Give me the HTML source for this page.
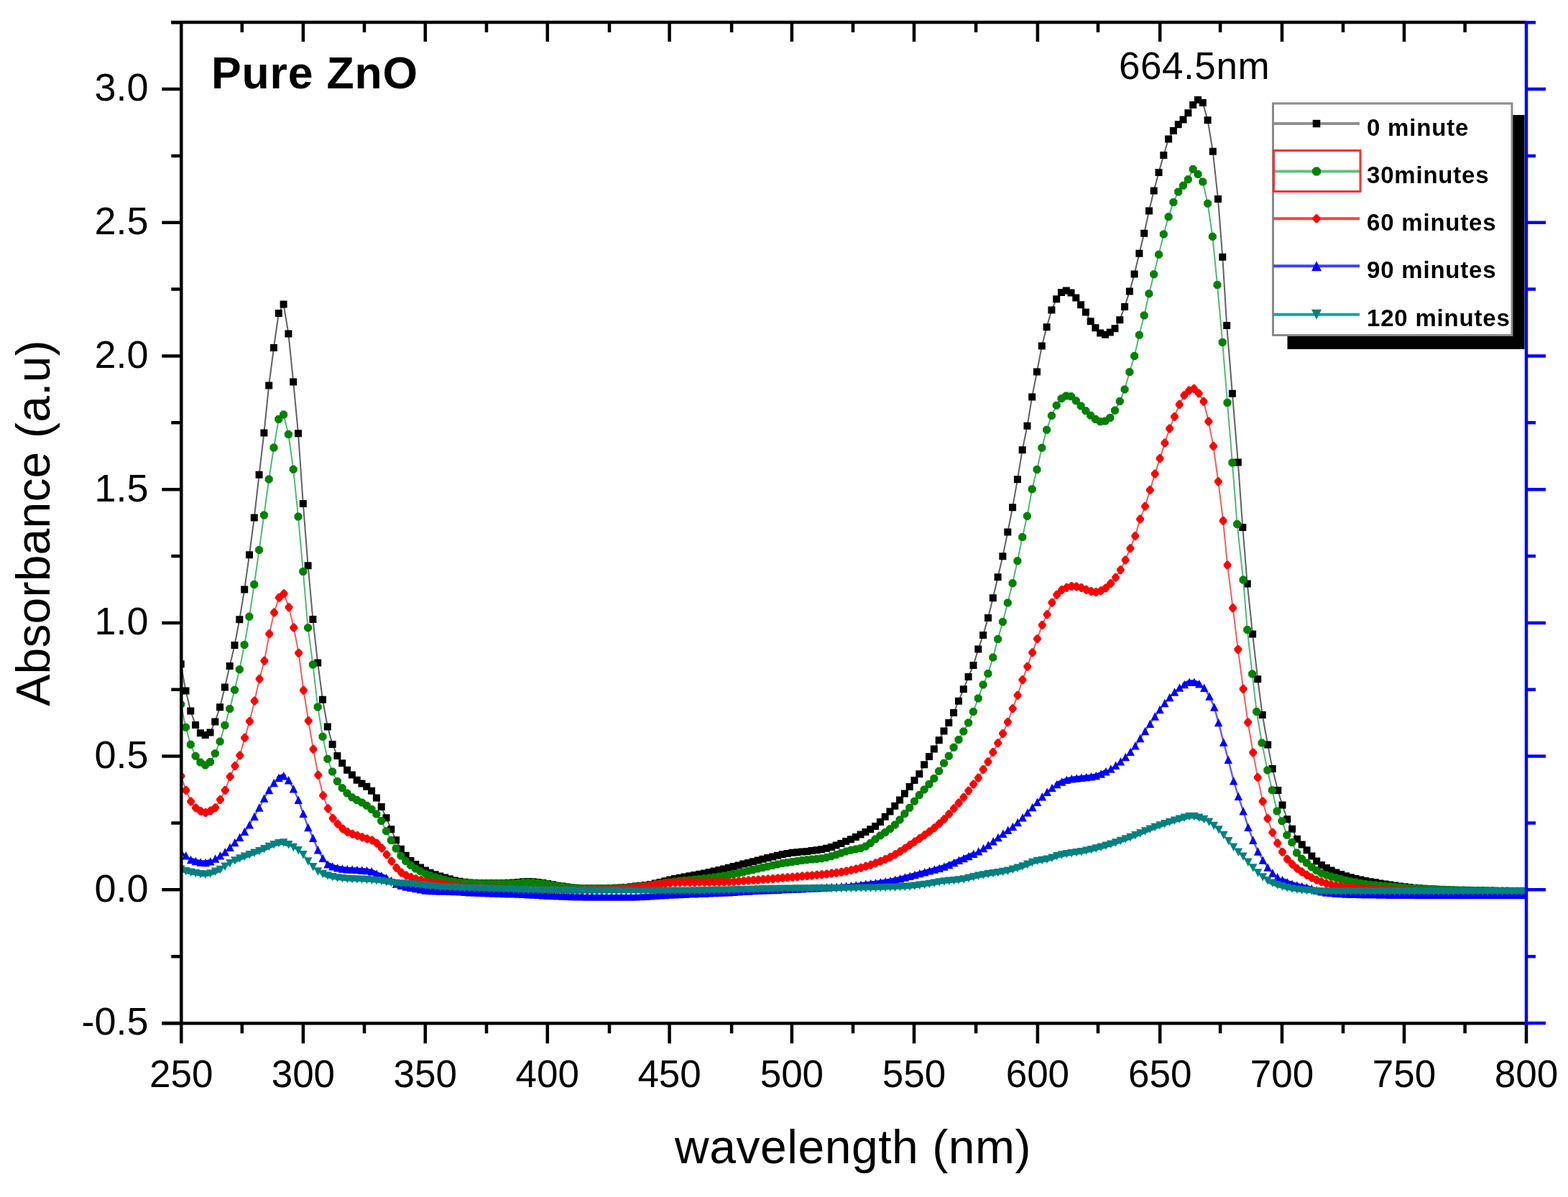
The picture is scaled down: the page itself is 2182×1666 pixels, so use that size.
<!DOCTYPE html>
<html><head><meta charset="utf-8"><title>Pure ZnO absorbance</title>
<style>html,body{margin:0;padding:0;background:#fff;}svg{display:block;}text{font-family:"Liberation Sans",Arial,Helvetica,sans-serif;fill:#000;}</style>
</head><body>
<svg width="2182" height="1666" viewBox="0 0 2182 1666">
<rect width="2182" height="1666" fill="#fff"/>
<defs><clipPath id="pc"><rect x="252.3" y="31" width="1869.7" height="1393.3"/></clipPath></defs>
<g clip-path="url(#pc)">
<path d="M251.7 924.3 258.5 961.5 265.3 989.4 272.1 1009.1 278.9 1020.2 285.7 1023 292.5 1019.5 299.3 1004.4 306.1 984.2 312.9 956.6 319.7 926.9 326.5 898 333.3 862.2 340.2 820.4 347 772.3 353.8 720.5 360.6 660.8 367.4 602.6 374.2 536.4 381 484 387.8 435.9 394.6 423.4 401.4 464.4 408.2 531.5 415 603.2 421.8 701 428.6 787.2 435.4 861.9 442.2 922.6 449 973.7 455.8 1011.5 462.6 1035.9 469.4 1052.1 476.2 1062.3 483.1 1071.8 489.9 1078.6 496.7 1085.8 503.5 1090.4 510.3 1094.8 517.1 1100.8 523.9 1110.6 530.7 1123.1 537.5 1138.2 544.3 1154.2 551.1 1169.2 557.9 1181.7 564.7 1190.7 571.5 1198.1 578.3 1202.9 585.1 1207.4 591.9 1211.4 598.7 1214.8 605.6 1217.3 612.4 1219.4 619.2 1221.5 626 1223.6 632.8 1225.4 639.6 1226.8 646.4 1227.8 653.2 1228.4 660 1228.8 666.8 1229.1 673.6 1229.1 680.4 1229.1 687.2 1229 694 1229 700.8 1228.9 707.6 1228.8 714.4 1228.6 721.2 1227.9 728.1 1227.2 734.9 1226.9 741.7 1227.2 748.5 1227.9 755.3 1228.7 762.1 1229.9 768.9 1231.3 775.7 1232.7 782.5 1233.6 789.3 1234.6 796.1 1235.4 802.9 1236.1 809.7 1236.5 816.5 1236.5 823.3 1236.5 830.1 1236.4 836.9 1236.3 843.7 1236.2 850.6 1236.1 857.4 1235.8 864.2 1235.4 871 1234.9 877.8 1234.3 884.6 1233.6 891.4 1232.8 898.2 1232 905 1231 911.8 1229.6 918.6 1228 925.4 1226.2 932.2 1224.5 939 1223 945.8 1221.7 952.6 1220.4 959.4 1219.2 966.2 1218 973.1 1216.8 979.9 1215.4 986.7 1214 993.5 1212.5 1000.3 1211 1007.1 1209.4 1013.9 1207.8 1020.7 1206.1 1027.5 1204.4 1034.3 1202.6 1041.1 1200.9 1047.9 1199.2 1054.7 1197.5 1061.5 1195.7 1068.3 1194 1075.1 1192.4 1081.9 1190.8 1088.7 1189.3 1095.6 1187.9 1102.4 1186.8 1109.2 1186.2 1116 1185.6 1122.8 1184.9 1129.6 1184.1 1136.4 1183.2 1143.2 1182.2 1150 1180.8 1156.8 1178.9 1163.6 1176.6 1170.4 1173.9 1177.2 1171.1 1184 1168.2 1190.8 1165.1 1197.6 1161.6 1204.4 1158 1211.2 1154.3 1218.1 1149.9 1224.9 1144 1231.7 1136.8 1238.5 1129.4 1245.3 1121.7 1252.1 1113.4 1258.9 1104.6 1265.7 1095.1 1272.5 1086 1279.3 1077.2 1286.2 1064.2 1293 1053 1299.8 1042.4 1306.7 1030.3 1313.5 1017.6 1320.3 1006 1327.1 992.1 1334 975.7 1340.8 959.2 1347.6 942.1 1354.5 926 1361.3 903.6 1368.1 884 1375 860.1 1381.8 832.3 1388.6 803.3 1395.4 774.2 1402.3 740.6 1409.1 706.2 1415.9 667.3 1422.7 626.2 1429.5 592.8 1436.2 552.4 1443 517.6 1449.8 481.6 1456.6 455.3 1463.4 431.6 1470.2 416.2 1477 407.1 1483.8 404.5 1490.5 407.6 1497.3 414.4 1504.1 424.2 1510.9 434.5 1517.7 447.2 1524.4 456.2 1531.2 463.6 1538 465.7 1544.8 462.6 1551.5 457.2 1558.3 445.2 1565.1 426.9 1571.9 405.6 1578.6 381.4 1585.4 352.8 1592.2 324.7 1599 293.6 1605.7 265.4 1612.5 240.1 1619.3 216 1626.1 193.5 1632.9 181.9 1639.7 173.3 1646.5 166.6 1653.4 157.2 1660.2 145.9 1667 139 1673.8 143 1680.6 167.2 1687.8 210.8 1695 277.1 1701.3 357.8 1707.2 453.1 1714.9 547.8 1722.8 643.4 1729.3 734.1 1735.7 812.6 1743.1 882.5 1750.2 945.2 1756.7 995 1764.2 1036.5 1770.7 1070.1 1778.3 1100.1 1784.5 1120.4 1791.3 1140.3 1798.1 1153.8 1805 1167.8 1811.8 1175.5 1818.6 1183.2 1825.4 1191.5 1832.2 1198.5 1839 1203.9 1845.8 1208 1852.6 1211.4 1859.4 1214.4 1866.2 1216.9 1873 1219.2 1879.8 1221.2 1886.6 1223 1893.4 1224.5 1900.2 1225.9 1907 1227.2 1913.8 1228.3 1920.6 1229.5 1927.4 1230.6 1934.2 1231.6 1941 1232.5 1947.8 1233.4 1954.6 1234.3 1961.4 1235 1968.2 1235.7 1974.9 1236.3 1981.7 1236.8 1988.5 1237.2 1995.3 1237.6 2002.1 1238 2008.9 1238.2 2015.7 1238.5 2022.5 1238.7 2029.3 1238.9 2036.1 1239.1 2042.9 1239.3 2049.7 1239.4 2056.5 1239.5 2063.3 1239.6 2070.1 1239.7 2076.9 1239.8 2083.7 1239.9 2090.5 1240 2097.3 1240.1 2104.1 1240.2 2110.9 1240.2 2117.7 1240.2 2124.5 1240.2" fill="none" stroke="#606060" stroke-width="2" stroke-linejoin="round"/>
<path d="M246.7 919.3h10v10h-10zM253.5 956.5h10v10h-10zM260.3 984.4h10v10h-10zM267.1 1004.1h10v10h-10zM273.9 1015.2h10v10h-10zM280.7 1018h10v10h-10zM287.5 1014.5h10v10h-10zM294.3 999.4h10v10h-10zM301.1 979.2h10v10h-10zM307.9 951.6h10v10h-10zM314.7 921.9h10v10h-10zM321.5 893h10v10h-10zM328.3 857.2h10v10h-10zM335.2 815.4h10v10h-10zM342 767.3h10v10h-10zM348.8 715.5h10v10h-10zM355.6 655.8h10v10h-10zM362.4 597.6h10v10h-10zM369.2 531.4h10v10h-10zM376 479h10v10h-10zM382.8 430.9h10v10h-10zM389.6 418.4h10v10h-10zM396.4 459.4h10v10h-10zM403.2 526.5h10v10h-10zM410 598.2h10v10h-10zM416.8 696h10v10h-10zM423.6 782.2h10v10h-10zM430.4 856.9h10v10h-10zM437.2 917.6h10v10h-10zM444 968.7h10v10h-10zM450.8 1006.5h10v10h-10zM457.6 1030.9h10v10h-10zM464.4 1047.1h10v10h-10zM471.2 1057.3h10v10h-10zM478.1 1066.8h10v10h-10zM484.9 1073.6h10v10h-10zM491.7 1080.8h10v10h-10zM498.5 1085.4h10v10h-10zM505.3 1089.8h10v10h-10zM512.1 1095.8h10v10h-10zM518.9 1105.6h10v10h-10zM525.7 1118.1h10v10h-10zM532.5 1133.2h10v10h-10zM539.3 1149.2h10v10h-10zM546.1 1164.2h10v10h-10zM552.9 1176.7h10v10h-10zM559.7 1185.7h10v10h-10zM566.5 1193.1h10v10h-10zM573.3 1197.9h10v10h-10zM580.1 1202.4h10v10h-10zM586.9 1206.4h10v10h-10zM593.7 1209.8h10v10h-10zM600.6 1212.3h10v10h-10zM607.4 1214.4h10v10h-10zM614.2 1216.5h10v10h-10zM621 1218.6h10v10h-10zM627.8 1220.4h10v10h-10zM634.6 1221.8h10v10h-10zM641.4 1222.8h10v10h-10zM648.2 1223.4h10v10h-10zM655 1223.8h10v10h-10zM661.8 1224.1h10v10h-10zM668.6 1224.1h10v10h-10zM675.4 1224.1h10v10h-10zM682.2 1224h10v10h-10zM689 1224h10v10h-10zM695.8 1223.9h10v10h-10zM702.6 1223.8h10v10h-10zM709.4 1223.6h10v10h-10zM716.2 1222.9h10v10h-10zM723.1 1222.2h10v10h-10zM729.9 1221.9h10v10h-10zM736.7 1222.2h10v10h-10zM743.5 1222.9h10v10h-10zM750.3 1223.7h10v10h-10zM757.1 1224.9h10v10h-10zM763.9 1226.3h10v10h-10zM770.7 1227.7h10v10h-10zM777.5 1228.6h10v10h-10zM784.3 1229.6h10v10h-10zM791.1 1230.4h10v10h-10zM797.9 1231.1h10v10h-10zM804.7 1231.5h10v10h-10zM811.5 1231.5h10v10h-10zM818.3 1231.5h10v10h-10zM825.1 1231.4h10v10h-10zM831.9 1231.3h10v10h-10zM838.7 1231.2h10v10h-10zM845.6 1231.1h10v10h-10zM852.4 1230.8h10v10h-10zM859.2 1230.4h10v10h-10zM866 1229.9h10v10h-10zM872.8 1229.3h10v10h-10zM879.6 1228.6h10v10h-10zM886.4 1227.8h10v10h-10zM893.2 1227h10v10h-10zM900 1226h10v10h-10zM906.8 1224.6h10v10h-10zM913.6 1223h10v10h-10zM920.4 1221.2h10v10h-10zM927.2 1219.5h10v10h-10zM934 1218h10v10h-10zM940.8 1216.7h10v10h-10zM947.6 1215.4h10v10h-10zM954.4 1214.2h10v10h-10zM961.2 1213h10v10h-10zM968.1 1211.8h10v10h-10zM974.9 1210.4h10v10h-10zM981.7 1209h10v10h-10zM988.5 1207.5h10v10h-10zM995.3 1206h10v10h-10zM1002.1 1204.4h10v10h-10zM1008.9 1202.8h10v10h-10zM1015.7 1201.1h10v10h-10zM1022.5 1199.4h10v10h-10zM1029.3 1197.6h10v10h-10zM1036.1 1195.9h10v10h-10zM1042.9 1194.2h10v10h-10zM1049.7 1192.5h10v10h-10zM1056.5 1190.7h10v10h-10zM1063.3 1189h10v10h-10zM1070.1 1187.4h10v10h-10zM1076.9 1185.8h10v10h-10zM1083.7 1184.3h10v10h-10zM1090.6 1182.9h10v10h-10zM1097.4 1181.8h10v10h-10zM1104.2 1181.2h10v10h-10zM1111 1180.6h10v10h-10zM1117.8 1179.9h10v10h-10zM1124.6 1179.1h10v10h-10zM1131.4 1178.2h10v10h-10zM1138.2 1177.2h10v10h-10zM1145 1175.8h10v10h-10zM1151.8 1173.9h10v10h-10zM1158.6 1171.6h10v10h-10zM1165.4 1168.9h10v10h-10zM1172.2 1166.1h10v10h-10zM1179 1163.2h10v10h-10zM1185.8 1160.1h10v10h-10zM1192.6 1156.6h10v10h-10zM1199.4 1153h10v10h-10zM1206.2 1149.3h10v10h-10zM1213.1 1144.9h10v10h-10zM1219.9 1139h10v10h-10zM1226.7 1131.8h10v10h-10zM1233.5 1124.4h10v10h-10zM1240.3 1116.7h10v10h-10zM1247.1 1108.4h10v10h-10zM1253.9 1099.6h10v10h-10zM1260.7 1090.1h10v10h-10zM1267.5 1081h10v10h-10zM1274.3 1072.2h10v10h-10zM1281.2 1059.2h10v10h-10zM1288 1048h10v10h-10zM1294.8 1037.4h10v10h-10zM1301.7 1025.3h10v10h-10zM1308.5 1012.6h10v10h-10zM1315.3 1001h10v10h-10zM1322.1 987.1h10v10h-10zM1329 970.7h10v10h-10zM1335.8 954.2h10v10h-10zM1342.6 937.1h10v10h-10zM1349.5 921h10v10h-10zM1356.3 898.6h10v10h-10zM1363.1 879h10v10h-10zM1370 855.1h10v10h-10zM1376.8 827.3h10v10h-10zM1383.6 798.3h10v10h-10zM1390.4 769.2h10v10h-10zM1397.3 735.6h10v10h-10zM1404.1 701.2h10v10h-10zM1410.9 662.3h10v10h-10zM1417.7 621.2h10v10h-10zM1424.5 587.8h10v10h-10zM1431.2 547.4h10v10h-10zM1438 512.6h10v10h-10zM1444.8 476.6h10v10h-10zM1451.6 450.3h10v10h-10zM1458.4 426.6h10v10h-10zM1465.2 411.2h10v10h-10zM1472 402.1h10v10h-10zM1478.8 399.5h10v10h-10zM1485.5 402.6h10v10h-10zM1492.3 409.4h10v10h-10zM1499.1 419.2h10v10h-10zM1505.9 429.5h10v10h-10zM1512.7 442.2h10v10h-10zM1519.4 451.2h10v10h-10zM1526.2 458.6h10v10h-10zM1533 460.7h10v10h-10zM1539.8 457.6h10v10h-10zM1546.5 452.2h10v10h-10zM1553.3 440.2h10v10h-10zM1560.1 421.9h10v10h-10zM1566.9 400.6h10v10h-10zM1573.6 376.4h10v10h-10zM1580.4 347.8h10v10h-10zM1587.2 319.7h10v10h-10zM1594 288.6h10v10h-10zM1600.7 260.4h10v10h-10zM1607.5 235.1h10v10h-10zM1614.3 211h10v10h-10zM1621.1 188.5h10v10h-10zM1627.9 176.9h10v10h-10zM1634.7 168.3h10v10h-10zM1641.5 161.6h10v10h-10zM1648.4 152.2h10v10h-10zM1655.2 140.9h10v10h-10zM1662 134h10v10h-10zM1668.8 138h10v10h-10zM1675.6 162.2h10v10h-10zM1682.8 205.8h10v10h-10zM1690 272.1h10v10h-10zM1696.3 352.8h10v10h-10zM1702.2 448.1h10v10h-10zM1709.9 542.8h10v10h-10zM1717.8 638.4h10v10h-10zM1724.3 729.1h10v10h-10zM1730.7 807.6h10v10h-10zM1738.1 877.5h10v10h-10zM1745.2 940.2h10v10h-10zM1751.7 990h10v10h-10zM1759.2 1031.5h10v10h-10zM1765.7 1065.1h10v10h-10zM1773.3 1095.1h10v10h-10zM1779.5 1115.4h10v10h-10zM1786.3 1135.3h10v10h-10zM1793.1 1148.8h10v10h-10zM1800 1162.8h10v10h-10zM1806.8 1170.5h10v10h-10zM1813.6 1178.2h10v10h-10zM1820.4 1186.5h10v10h-10zM1827.2 1193.5h10v10h-10zM1834 1198.9h10v10h-10zM1840.8 1203h10v10h-10zM1847.6 1206.4h10v10h-10zM1854.4 1209.4h10v10h-10zM1861.2 1211.9h10v10h-10zM1868 1214.2h10v10h-10zM1874.8 1216.2h10v10h-10zM1881.6 1218h10v10h-10zM1888.4 1219.5h10v10h-10zM1895.2 1220.9h10v10h-10zM1902 1222.2h10v10h-10zM1908.8 1223.3h10v10h-10zM1915.6 1224.5h10v10h-10zM1922.4 1225.6h10v10h-10zM1929.2 1226.6h10v10h-10zM1936 1227.5h10v10h-10zM1942.8 1228.4h10v10h-10zM1949.6 1229.3h10v10h-10zM1956.4 1230h10v10h-10zM1963.2 1230.7h10v10h-10zM1969.9 1231.3h10v10h-10zM1976.7 1231.8h10v10h-10zM1983.5 1232.2h10v10h-10zM1990.3 1232.6h10v10h-10zM1997.1 1233h10v10h-10zM2003.9 1233.2h10v10h-10zM2010.7 1233.5h10v10h-10zM2017.5 1233.7h10v10h-10zM2024.3 1233.9h10v10h-10zM2031.1 1234.1h10v10h-10zM2037.9 1234.3h10v10h-10zM2044.7 1234.4h10v10h-10zM2051.5 1234.5h10v10h-10zM2058.3 1234.6h10v10h-10zM2065.1 1234.7h10v10h-10zM2071.9 1234.8h10v10h-10zM2078.7 1234.9h10v10h-10zM2085.5 1235h10v10h-10zM2092.3 1235.1h10v10h-10zM2099.1 1235.2h10v10h-10zM2105.9 1235.2h10v10h-10zM2112.7 1235.2h10v10h-10zM2119.5 1235.2h10v10h-10z" fill="#000000"/>
<path d="M251.7 980.2 258.5 1012.2 265.3 1036.3 272.1 1052.2 278.9 1061 285.7 1065 292.5 1060.4 299.3 1048.8 306.1 1032 312.9 1009.4 319.7 986.5 326.5 960.2 333.3 931.7 340.2 897.4 347 858.2 353.8 813.4 360.6 765.5 367.4 716.9 374.2 667 381 623 387.8 583.4 394.6 577.1 401.4 604.5 408.2 653.3 415 719 421.8 795.4 428.6 873.8 435.4 924.9 442.2 983.9 449 1025.3 455.8 1056.3 462.6 1073.9 469.4 1087.4 476.2 1096.8 483.1 1103.9 489.9 1109.7 496.7 1113.6 503.5 1116.9 510.3 1121.2 517.1 1126.4 523.9 1133.1 530.7 1142.5 537.5 1156.8 544.3 1169.5 551.1 1181 557.9 1191 564.7 1198.5 571.5 1204.3 578.3 1208.9 585.1 1212.7 591.9 1215.9 598.7 1218.5 605.6 1220.8 612.4 1222.8 619.2 1224.6 626 1226.2 632.8 1227.5 639.6 1228.2 646.4 1228.8 653.2 1229.3 660 1229.6 666.8 1229.8 673.6 1229.8 680.4 1229.8 687.2 1229.8 694 1229.8 700.8 1229.8 707.6 1229.8 714.4 1229.7 721.2 1229.2 728.1 1228.6 734.9 1228.3 741.7 1228.6 748.5 1229.2 755.3 1229.8 762.1 1230.8 768.9 1232 775.7 1233.1 782.5 1234 789.3 1234.8 796.1 1235.5 802.9 1236.1 809.7 1236.5 816.5 1236.5 823.3 1236.5 830.1 1236.5 836.9 1236.5 843.7 1236.5 850.6 1236.5 857.4 1236.3 864.2 1235.9 871 1235.4 877.8 1234.8 884.6 1234.1 891.4 1233.5 898.2 1232.8 905 1232 911.8 1231.1 918.6 1230 925.4 1228.9 932.2 1227.9 939 1227 945.8 1226.2 952.6 1225.5 959.4 1224.9 966.2 1224.3 973.1 1223.5 979.9 1222.7 986.7 1221.9 993.5 1221 1000.3 1220 1007.1 1219 1013.9 1217.8 1020.7 1216.6 1027.5 1215.2 1034.3 1213.7 1041.1 1212.1 1047.9 1210.6 1054.7 1209.1 1061.5 1207.5 1068.3 1205.9 1075.1 1204.4 1081.9 1202.9 1088.7 1201.6 1095.6 1200.4 1102.4 1199.4 1109.2 1198.4 1116 1197.5 1122.8 1196.7 1129.6 1196.1 1136.4 1195.4 1143.2 1194.7 1150 1193.5 1156.8 1191.8 1163.6 1189.6 1170.4 1187.3 1177.2 1185 1184 1183.2 1190.8 1182 1197.6 1180.7 1204.4 1178.1 1211.2 1173.5 1218.1 1168.1 1224.9 1163.1 1231.7 1158.5 1238.5 1153.7 1245.3 1148.1 1252.1 1140.9 1258.9 1132.6 1265.7 1124.2 1272.5 1115.2 1279.3 1106.6 1286.2 1099 1293 1091.4 1299.8 1083.5 1306.7 1073.2 1313.5 1062.2 1320.3 1052.3 1327.1 1040.3 1334 1029.4 1340.8 1018 1347.6 1005.9 1354.5 990.5 1361.3 971.9 1368.1 953 1375 937.6 1381.8 915.1 1388.6 889.6 1395.4 865.5 1402.3 839 1409.1 811.7 1415.9 780.7 1422.7 747.6 1429.5 718.2 1436.2 680.8 1443 653.5 1449.8 623.3 1456.6 598.3 1463.4 578.5 1470.2 564.3 1477 554.7 1483.8 550.9 1490.5 551.8 1497.3 557.7 1504.1 564.9 1510.9 571.7 1517.7 578.3 1524.4 583.5 1531.2 586.7 1538 586 1544.8 581.4 1551.5 571.2 1558.3 558.5 1565.1 542 1571.9 517.7 1578.6 495.6 1585.4 466.2 1592.2 439.1 1599 408.7 1605.7 381.7 1612.5 354.2 1619.3 326 1626.1 301.7 1632.9 281.4 1639.7 266.9 1646.5 258.2 1653.4 249.8 1660.2 235.5 1667 242.4 1673.8 253.1 1680.6 283.3 1687.4 329.3 1694 396.5 1701.2 476.4 1708 560.4 1714.9 643.9 1721.6 729.5 1730.1 807.1 1735.7 876.5 1742.6 938 1748.7 990.5 1756 1034 1763.8 1072 1770.3 1099.7 1777.1 1128.9 1784 1142.8 1790.9 1162.2 1797.8 1172.5 1804.6 1187.1 1811.5 1195.3 1818.4 1201.1 1825.2 1206.8 1832 1211.6 1838.8 1215.3 1845.6 1217.8 1852.4 1219.9 1859.2 1221.8 1866 1223.6 1872.8 1225.2 1879.6 1226.7 1886.4 1228.1 1893.2 1229.3 1900 1230.4 1906.8 1231.3 1913.6 1232 1920.4 1232.6 1927.2 1233.2 1934 1233.8 1940.8 1234.3 1947.6 1234.9 1954.4 1235.5 1961.2 1236 1968 1236.5 1974.9 1236.8 1981.7 1237.2 1988.5 1237.4 1995.3 1237.7 2002.1 1238 2008.9 1238.2 2015.7 1238.4 2022.5 1238.7 2029.3 1238.9 2036.1 1239.1 2042.9 1239.3 2049.7 1239.4 2056.5 1239.5 2063.3 1239.6 2070.1 1239.7 2076.9 1239.8 2083.7 1239.9 2090.5 1240 2097.3 1240.1 2104.1 1240.2 2110.9 1240.2 2117.7 1240.2 2124.5 1240.2" fill="none" stroke="#50b878" stroke-width="2" stroke-linejoin="round"/>
<path d="M249.4 974.7h4.6l3.2 3.2v4.6l-3.2 3.2h-4.6l-3.2 -3.2v-4.6zM256.2 1006.7h4.6l3.2 3.2v4.6l-3.2 3.2h-4.6l-3.2 -3.2v-4.6zM263 1030.8h4.6l3.2 3.2v4.6l-3.2 3.2h-4.6l-3.2 -3.2v-4.6zM269.8 1046.7h4.6l3.2 3.2v4.6l-3.2 3.2h-4.6l-3.2 -3.2v-4.6zM276.6 1055.5h4.6l3.2 3.2v4.6l-3.2 3.2h-4.6l-3.2 -3.2v-4.6zM283.4 1059.5h4.6l3.2 3.2v4.6l-3.2 3.2h-4.6l-3.2 -3.2v-4.6zM290.2 1054.9h4.6l3.2 3.2v4.6l-3.2 3.2h-4.6l-3.2 -3.2v-4.6zM297 1043.3h4.6l3.2 3.2v4.6l-3.2 3.2h-4.6l-3.2 -3.2v-4.6zM303.8 1026.5h4.6l3.2 3.2v4.6l-3.2 3.2h-4.6l-3.2 -3.2v-4.6zM310.6 1003.9h4.6l3.2 3.2v4.6l-3.2 3.2h-4.6l-3.2 -3.2v-4.6zM317.4 981h4.6l3.2 3.2v4.6l-3.2 3.2h-4.6l-3.2 -3.2v-4.6zM324.2 954.7h4.6l3.2 3.2v4.6l-3.2 3.2h-4.6l-3.2 -3.2v-4.6zM331 926.2h4.6l3.2 3.2v4.6l-3.2 3.2h-4.6l-3.2 -3.2v-4.6zM337.8 891.9h4.6l3.2 3.2v4.6l-3.2 3.2h-4.6l-3.2 -3.2v-4.6zM344.6 852.7h4.6l3.2 3.2v4.6l-3.2 3.2h-4.6l-3.2 -3.2v-4.6zM351.4 807.9h4.6l3.2 3.2v4.6l-3.2 3.2h-4.6l-3.2 -3.2v-4.6zM358.3 760h4.6l3.2 3.2v4.6l-3.2 3.2h-4.6l-3.2 -3.2v-4.6zM365.1 711.4h4.6l3.2 3.2v4.6l-3.2 3.2h-4.6l-3.2 -3.2v-4.6zM371.9 661.5h4.6l3.2 3.2v4.6l-3.2 3.2h-4.6l-3.2 -3.2v-4.6zM378.7 617.5h4.6l3.2 3.2v4.6l-3.2 3.2h-4.6l-3.2 -3.2v-4.6zM385.5 577.9h4.6l3.2 3.2v4.6l-3.2 3.2h-4.6l-3.2 -3.2v-4.6zM392.3 571.6h4.6l3.2 3.2v4.6l-3.2 3.2h-4.6l-3.2 -3.2v-4.6zM399.1 599h4.6l3.2 3.2v4.6l-3.2 3.2h-4.6l-3.2 -3.2v-4.6zM405.9 647.8h4.6l3.2 3.2v4.6l-3.2 3.2h-4.6l-3.2 -3.2v-4.6zM412.7 713.5h4.6l3.2 3.2v4.6l-3.2 3.2h-4.6l-3.2 -3.2v-4.6zM419.5 789.9h4.6l3.2 3.2v4.6l-3.2 3.2h-4.6l-3.2 -3.2v-4.6zM426.3 868.3h4.6l3.2 3.2v4.6l-3.2 3.2h-4.6l-3.2 -3.2v-4.6zM433.1 919.4h4.6l3.2 3.2v4.6l-3.2 3.2h-4.6l-3.2 -3.2v-4.6zM439.9 978.4h4.6l3.2 3.2v4.6l-3.2 3.2h-4.6l-3.2 -3.2v-4.6zM446.7 1019.8h4.6l3.2 3.2v4.6l-3.2 3.2h-4.6l-3.2 -3.2v-4.6zM453.5 1050.8h4.6l3.2 3.2v4.6l-3.2 3.2h-4.6l-3.2 -3.2v-4.6zM460.3 1068.4h4.6l3.2 3.2v4.6l-3.2 3.2h-4.6l-3.2 -3.2v-4.6zM467.1 1081.9h4.6l3.2 3.2v4.6l-3.2 3.2h-4.6l-3.2 -3.2v-4.6zM473.9 1091.3h4.6l3.2 3.2v4.6l-3.2 3.2h-4.6l-3.2 -3.2v-4.6zM480.7 1098.4h4.6l3.2 3.2v4.6l-3.2 3.2h-4.6l-3.2 -3.2v-4.6zM487.5 1104.2h4.6l3.2 3.2v4.6l-3.2 3.2h-4.6l-3.2 -3.2v-4.6zM494.4 1108.1h4.6l3.2 3.2v4.6l-3.2 3.2h-4.6l-3.2 -3.2v-4.6zM501.2 1111.4h4.6l3.2 3.2v4.6l-3.2 3.2h-4.6l-3.2 -3.2v-4.6zM508 1115.7h4.6l3.2 3.2v4.6l-3.2 3.2h-4.6l-3.2 -3.2v-4.6zM514.8 1120.9h4.6l3.2 3.2v4.6l-3.2 3.2h-4.6l-3.2 -3.2v-4.6zM521.6 1127.6h4.6l3.2 3.2v4.6l-3.2 3.2h-4.6l-3.2 -3.2v-4.6zM528.4 1137h4.6l3.2 3.2v4.6l-3.2 3.2h-4.6l-3.2 -3.2v-4.6zM535.2 1151.3h4.6l3.2 3.2v4.6l-3.2 3.2h-4.6l-3.2 -3.2v-4.6zM542 1164h4.6l3.2 3.2v4.6l-3.2 3.2h-4.6l-3.2 -3.2v-4.6zM548.8 1175.5h4.6l3.2 3.2v4.6l-3.2 3.2h-4.6l-3.2 -3.2v-4.6zM555.6 1185.5h4.6l3.2 3.2v4.6l-3.2 3.2h-4.6l-3.2 -3.2v-4.6zM562.4 1193h4.6l3.2 3.2v4.6l-3.2 3.2h-4.6l-3.2 -3.2v-4.6zM569.2 1198.8h4.6l3.2 3.2v4.6l-3.2 3.2h-4.6l-3.2 -3.2v-4.6zM576 1203.4h4.6l3.2 3.2v4.6l-3.2 3.2h-4.6l-3.2 -3.2v-4.6zM582.8 1207.2h4.6l3.2 3.2v4.6l-3.2 3.2h-4.6l-3.2 -3.2v-4.6zM589.6 1210.4h4.6l3.2 3.2v4.6l-3.2 3.2h-4.6l-3.2 -3.2v-4.6zM596.4 1213h4.6l3.2 3.2v4.6l-3.2 3.2h-4.6l-3.2 -3.2v-4.6zM603.2 1215.3h4.6l3.2 3.2v4.6l-3.2 3.2h-4.6l-3.2 -3.2v-4.6zM610 1217.3h4.6l3.2 3.2v4.6l-3.2 3.2h-4.6l-3.2 -3.2v-4.6zM616.9 1219.1h4.6l3.2 3.2v4.6l-3.2 3.2h-4.6l-3.2 -3.2v-4.6zM623.7 1220.7h4.6l3.2 3.2v4.6l-3.2 3.2h-4.6l-3.2 -3.2v-4.6zM630.5 1222h4.6l3.2 3.2v4.6l-3.2 3.2h-4.6l-3.2 -3.2v-4.6zM637.3 1222.7h4.6l3.2 3.2v4.6l-3.2 3.2h-4.6l-3.2 -3.2v-4.6zM644.1 1223.3h4.6l3.2 3.2v4.6l-3.2 3.2h-4.6l-3.2 -3.2v-4.6zM650.9 1223.8h4.6l3.2 3.2v4.6l-3.2 3.2h-4.6l-3.2 -3.2v-4.6zM657.7 1224.1h4.6l3.2 3.2v4.6l-3.2 3.2h-4.6l-3.2 -3.2v-4.6zM664.5 1224.3h4.6l3.2 3.2v4.6l-3.2 3.2h-4.6l-3.2 -3.2v-4.6zM671.3 1224.3h4.6l3.2 3.2v4.6l-3.2 3.2h-4.6l-3.2 -3.2v-4.6zM678.1 1224.3h4.6l3.2 3.2v4.6l-3.2 3.2h-4.6l-3.2 -3.2v-4.6zM684.9 1224.3h4.6l3.2 3.2v4.6l-3.2 3.2h-4.6l-3.2 -3.2v-4.6zM691.7 1224.3h4.6l3.2 3.2v4.6l-3.2 3.2h-4.6l-3.2 -3.2v-4.6zM698.5 1224.3h4.6l3.2 3.2v4.6l-3.2 3.2h-4.6l-3.2 -3.2v-4.6zM705.3 1224.3h4.6l3.2 3.2v4.6l-3.2 3.2h-4.6l-3.2 -3.2v-4.6zM712.1 1224.2h4.6l3.2 3.2v4.6l-3.2 3.2h-4.6l-3.2 -3.2v-4.6zM718.9 1223.7h4.6l3.2 3.2v4.6l-3.2 3.2h-4.6l-3.2 -3.2v-4.6zM725.7 1223.1h4.6l3.2 3.2v4.6l-3.2 3.2h-4.6l-3.2 -3.2v-4.6zM732.5 1222.8h4.6l3.2 3.2v4.6l-3.2 3.2h-4.6l-3.2 -3.2v-4.6zM739.4 1223.1h4.6l3.2 3.2v4.6l-3.2 3.2h-4.6l-3.2 -3.2v-4.6zM746.2 1223.7h4.6l3.2 3.2v4.6l-3.2 3.2h-4.6l-3.2 -3.2v-4.6zM753 1224.3h4.6l3.2 3.2v4.6l-3.2 3.2h-4.6l-3.2 -3.2v-4.6zM759.8 1225.3h4.6l3.2 3.2v4.6l-3.2 3.2h-4.6l-3.2 -3.2v-4.6zM766.6 1226.5h4.6l3.2 3.2v4.6l-3.2 3.2h-4.6l-3.2 -3.2v-4.6zM773.4 1227.6h4.6l3.2 3.2v4.6l-3.2 3.2h-4.6l-3.2 -3.2v-4.6zM780.2 1228.5h4.6l3.2 3.2v4.6l-3.2 3.2h-4.6l-3.2 -3.2v-4.6zM787 1229.3h4.6l3.2 3.2v4.6l-3.2 3.2h-4.6l-3.2 -3.2v-4.6zM793.8 1230h4.6l3.2 3.2v4.6l-3.2 3.2h-4.6l-3.2 -3.2v-4.6zM800.6 1230.6h4.6l3.2 3.2v4.6l-3.2 3.2h-4.6l-3.2 -3.2v-4.6zM807.4 1231h4.6l3.2 3.2v4.6l-3.2 3.2h-4.6l-3.2 -3.2v-4.6zM814.2 1231h4.6l3.2 3.2v4.6l-3.2 3.2h-4.6l-3.2 -3.2v-4.6zM821 1231h4.6l3.2 3.2v4.6l-3.2 3.2h-4.6l-3.2 -3.2v-4.6zM827.8 1231h4.6l3.2 3.2v4.6l-3.2 3.2h-4.6l-3.2 -3.2v-4.6zM834.6 1231h4.6l3.2 3.2v4.6l-3.2 3.2h-4.6l-3.2 -3.2v-4.6zM841.4 1231h4.6l3.2 3.2v4.6l-3.2 3.2h-4.6l-3.2 -3.2v-4.6zM848.2 1231h4.6l3.2 3.2v4.6l-3.2 3.2h-4.6l-3.2 -3.2v-4.6zM855 1230.8h4.6l3.2 3.2v4.6l-3.2 3.2h-4.6l-3.2 -3.2v-4.6zM861.9 1230.4h4.6l3.2 3.2v4.6l-3.2 3.2h-4.6l-3.2 -3.2v-4.6zM868.7 1229.9h4.6l3.2 3.2v4.6l-3.2 3.2h-4.6l-3.2 -3.2v-4.6zM875.5 1229.3h4.6l3.2 3.2v4.6l-3.2 3.2h-4.6l-3.2 -3.2v-4.6zM882.3 1228.6h4.6l3.2 3.2v4.6l-3.2 3.2h-4.6l-3.2 -3.2v-4.6zM889.1 1228h4.6l3.2 3.2v4.6l-3.2 3.2h-4.6l-3.2 -3.2v-4.6zM895.9 1227.3h4.6l3.2 3.2v4.6l-3.2 3.2h-4.6l-3.2 -3.2v-4.6zM902.7 1226.5h4.6l3.2 3.2v4.6l-3.2 3.2h-4.6l-3.2 -3.2v-4.6zM909.5 1225.6h4.6l3.2 3.2v4.6l-3.2 3.2h-4.6l-3.2 -3.2v-4.6zM916.3 1224.5h4.6l3.2 3.2v4.6l-3.2 3.2h-4.6l-3.2 -3.2v-4.6zM923.1 1223.4h4.6l3.2 3.2v4.6l-3.2 3.2h-4.6l-3.2 -3.2v-4.6zM929.9 1222.4h4.6l3.2 3.2v4.6l-3.2 3.2h-4.6l-3.2 -3.2v-4.6zM936.7 1221.5h4.6l3.2 3.2v4.6l-3.2 3.2h-4.6l-3.2 -3.2v-4.6zM943.5 1220.7h4.6l3.2 3.2v4.6l-3.2 3.2h-4.6l-3.2 -3.2v-4.6zM950.3 1220h4.6l3.2 3.2v4.6l-3.2 3.2h-4.6l-3.2 -3.2v-4.6zM957.1 1219.4h4.6l3.2 3.2v4.6l-3.2 3.2h-4.6l-3.2 -3.2v-4.6zM963.9 1218.8h4.6l3.2 3.2v4.6l-3.2 3.2h-4.6l-3.2 -3.2v-4.6zM970.7 1218h4.6l3.2 3.2v4.6l-3.2 3.2h-4.6l-3.2 -3.2v-4.6zM977.5 1217.2h4.6l3.2 3.2v4.6l-3.2 3.2h-4.6l-3.2 -3.2v-4.6zM984.4 1216.4h4.6l3.2 3.2v4.6l-3.2 3.2h-4.6l-3.2 -3.2v-4.6zM991.2 1215.5h4.6l3.2 3.2v4.6l-3.2 3.2h-4.6l-3.2 -3.2v-4.6zM998 1214.5h4.6l3.2 3.2v4.6l-3.2 3.2h-4.6l-3.2 -3.2v-4.6zM1004.8 1213.5h4.6l3.2 3.2v4.6l-3.2 3.2h-4.6l-3.2 -3.2v-4.6zM1011.6 1212.3h4.6l3.2 3.2v4.6l-3.2 3.2h-4.6l-3.2 -3.2v-4.6zM1018.4 1211.1h4.6l3.2 3.2v4.6l-3.2 3.2h-4.6l-3.2 -3.2v-4.6zM1025.2 1209.7h4.6l3.2 3.2v4.6l-3.2 3.2h-4.6l-3.2 -3.2v-4.6zM1032 1208.2h4.6l3.2 3.2v4.6l-3.2 3.2h-4.6l-3.2 -3.2v-4.6zM1038.8 1206.6h4.6l3.2 3.2v4.6l-3.2 3.2h-4.6l-3.2 -3.2v-4.6zM1045.6 1205.1h4.6l3.2 3.2v4.6l-3.2 3.2h-4.6l-3.2 -3.2v-4.6zM1052.4 1203.6h4.6l3.2 3.2v4.6l-3.2 3.2h-4.6l-3.2 -3.2v-4.6zM1059.2 1202h4.6l3.2 3.2v4.6l-3.2 3.2h-4.6l-3.2 -3.2v-4.6zM1066 1200.4h4.6l3.2 3.2v4.6l-3.2 3.2h-4.6l-3.2 -3.2v-4.6zM1072.8 1198.9h4.6l3.2 3.2v4.6l-3.2 3.2h-4.6l-3.2 -3.2v-4.6zM1079.6 1197.4h4.6l3.2 3.2v4.6l-3.2 3.2h-4.6l-3.2 -3.2v-4.6zM1086.4 1196.1h4.6l3.2 3.2v4.6l-3.2 3.2h-4.6l-3.2 -3.2v-4.6zM1093.2 1194.9h4.6l3.2 3.2v4.6l-3.2 3.2h-4.6l-3.2 -3.2v-4.6zM1100 1193.9h4.6l3.2 3.2v4.6l-3.2 3.2h-4.6l-3.2 -3.2v-4.6zM1106.9 1192.9h4.6l3.2 3.2v4.6l-3.2 3.2h-4.6l-3.2 -3.2v-4.6zM1113.7 1192h4.6l3.2 3.2v4.6l-3.2 3.2h-4.6l-3.2 -3.2v-4.6zM1120.5 1191.2h4.6l3.2 3.2v4.6l-3.2 3.2h-4.6l-3.2 -3.2v-4.6zM1127.3 1190.6h4.6l3.2 3.2v4.6l-3.2 3.2h-4.6l-3.2 -3.2v-4.6zM1134.1 1189.9h4.6l3.2 3.2v4.6l-3.2 3.2h-4.6l-3.2 -3.2v-4.6zM1140.9 1189.2h4.6l3.2 3.2v4.6l-3.2 3.2h-4.6l-3.2 -3.2v-4.6zM1147.7 1188h4.6l3.2 3.2v4.6l-3.2 3.2h-4.6l-3.2 -3.2v-4.6zM1154.5 1186.3h4.6l3.2 3.2v4.6l-3.2 3.2h-4.6l-3.2 -3.2v-4.6zM1161.3 1184.1h4.6l3.2 3.2v4.6l-3.2 3.2h-4.6l-3.2 -3.2v-4.6zM1168.1 1181.8h4.6l3.2 3.2v4.6l-3.2 3.2h-4.6l-3.2 -3.2v-4.6zM1174.9 1179.5h4.6l3.2 3.2v4.6l-3.2 3.2h-4.6l-3.2 -3.2v-4.6zM1181.7 1177.7h4.6l3.2 3.2v4.6l-3.2 3.2h-4.6l-3.2 -3.2v-4.6zM1188.5 1176.5h4.6l3.2 3.2v4.6l-3.2 3.2h-4.6l-3.2 -3.2v-4.6zM1195.3 1175.2h4.6l3.2 3.2v4.6l-3.2 3.2h-4.6l-3.2 -3.2v-4.6zM1202.1 1172.6h4.6l3.2 3.2v4.6l-3.2 3.2h-4.6l-3.2 -3.2v-4.6zM1208.9 1168h4.6l3.2 3.2v4.6l-3.2 3.2h-4.6l-3.2 -3.2v-4.6zM1215.7 1162.6h4.6l3.2 3.2v4.6l-3.2 3.2h-4.6l-3.2 -3.2v-4.6zM1222.6 1157.6h4.6l3.2 3.2v4.6l-3.2 3.2h-4.6l-3.2 -3.2v-4.6zM1229.4 1153h4.6l3.2 3.2v4.6l-3.2 3.2h-4.6l-3.2 -3.2v-4.6zM1236.2 1148.2h4.6l3.2 3.2v4.6l-3.2 3.2h-4.6l-3.2 -3.2v-4.6zM1243 1142.6h4.6l3.2 3.2v4.6l-3.2 3.2h-4.6l-3.2 -3.2v-4.6zM1249.8 1135.4h4.6l3.2 3.2v4.6l-3.2 3.2h-4.6l-3.2 -3.2v-4.6zM1256.6 1127.1h4.6l3.2 3.2v4.6l-3.2 3.2h-4.6l-3.2 -3.2v-4.6zM1263.4 1118.7h4.6l3.2 3.2v4.6l-3.2 3.2h-4.6l-3.2 -3.2v-4.6zM1270.2 1109.7h4.6l3.2 3.2v4.6l-3.2 3.2h-4.6l-3.2 -3.2v-4.6zM1277 1101.1h4.6l3.2 3.2v4.6l-3.2 3.2h-4.6l-3.2 -3.2v-4.6zM1283.8 1093.5h4.6l3.2 3.2v4.6l-3.2 3.2h-4.6l-3.2 -3.2v-4.6zM1290.7 1085.9h4.6l3.2 3.2v4.6l-3.2 3.2h-4.6l-3.2 -3.2v-4.6zM1297.5 1078h4.6l3.2 3.2v4.6l-3.2 3.2h-4.6l-3.2 -3.2v-4.6zM1304.3 1067.7h4.6l3.2 3.2v4.6l-3.2 3.2h-4.6l-3.2 -3.2v-4.6zM1311.2 1056.7h4.6l3.2 3.2v4.6l-3.2 3.2h-4.6l-3.2 -3.2v-4.6zM1318 1046.8h4.6l3.2 3.2v4.6l-3.2 3.2h-4.6l-3.2 -3.2v-4.6zM1324.8 1034.8h4.6l3.2 3.2v4.6l-3.2 3.2h-4.6l-3.2 -3.2v-4.6zM1331.7 1023.9h4.6l3.2 3.2v4.6l-3.2 3.2h-4.6l-3.2 -3.2v-4.6zM1338.5 1012.5h4.6l3.2 3.2v4.6l-3.2 3.2h-4.6l-3.2 -3.2v-4.6zM1345.3 1000.4h4.6l3.2 3.2v4.6l-3.2 3.2h-4.6l-3.2 -3.2v-4.6zM1352.1 985h4.6l3.2 3.2v4.6l-3.2 3.2h-4.6l-3.2 -3.2v-4.6zM1359 966.4h4.6l3.2 3.2v4.6l-3.2 3.2h-4.6l-3.2 -3.2v-4.6zM1365.8 947.5h4.6l3.2 3.2v4.6l-3.2 3.2h-4.6l-3.2 -3.2v-4.6zM1372.6 932.1h4.6l3.2 3.2v4.6l-3.2 3.2h-4.6l-3.2 -3.2v-4.6zM1379.5 909.6h4.6l3.2 3.2v4.6l-3.2 3.2h-4.6l-3.2 -3.2v-4.6zM1386.3 884.1h4.6l3.2 3.2v4.6l-3.2 3.2h-4.6l-3.2 -3.2v-4.6zM1393.1 860h4.6l3.2 3.2v4.6l-3.2 3.2h-4.6l-3.2 -3.2v-4.6zM1400 833.5h4.6l3.2 3.2v4.6l-3.2 3.2h-4.6l-3.2 -3.2v-4.6zM1406.8 806.2h4.6l3.2 3.2v4.6l-3.2 3.2h-4.6l-3.2 -3.2v-4.6zM1413.6 775.2h4.6l3.2 3.2v4.6l-3.2 3.2h-4.6l-3.2 -3.2v-4.6zM1420.4 742.1h4.6l3.2 3.2v4.6l-3.2 3.2h-4.6l-3.2 -3.2v-4.6zM1427.1 712.7h4.6l3.2 3.2v4.6l-3.2 3.2h-4.6l-3.2 -3.2v-4.6zM1433.9 675.3h4.6l3.2 3.2v4.6l-3.2 3.2h-4.6l-3.2 -3.2v-4.6zM1440.7 648h4.6l3.2 3.2v4.6l-3.2 3.2h-4.6l-3.2 -3.2v-4.6zM1447.5 617.8h4.6l3.2 3.2v4.6l-3.2 3.2h-4.6l-3.2 -3.2v-4.6zM1454.3 592.8h4.6l3.2 3.2v4.6l-3.2 3.2h-4.6l-3.2 -3.2v-4.6zM1461.1 573h4.6l3.2 3.2v4.6l-3.2 3.2h-4.6l-3.2 -3.2v-4.6zM1467.9 558.8h4.6l3.2 3.2v4.6l-3.2 3.2h-4.6l-3.2 -3.2v-4.6zM1474.7 549.2h4.6l3.2 3.2v4.6l-3.2 3.2h-4.6l-3.2 -3.2v-4.6zM1481.4 545.4h4.6l3.2 3.2v4.6l-3.2 3.2h-4.6l-3.2 -3.2v-4.6zM1488.2 546.3h4.6l3.2 3.2v4.6l-3.2 3.2h-4.6l-3.2 -3.2v-4.6zM1495 552.2h4.6l3.2 3.2v4.6l-3.2 3.2h-4.6l-3.2 -3.2v-4.6zM1501.8 559.4h4.6l3.2 3.2v4.6l-3.2 3.2h-4.6l-3.2 -3.2v-4.6zM1508.6 566.2h4.6l3.2 3.2v4.6l-3.2 3.2h-4.6l-3.2 -3.2v-4.6zM1515.4 572.8h4.6l3.2 3.2v4.6l-3.2 3.2h-4.6l-3.2 -3.2v-4.6zM1522.1 578h4.6l3.2 3.2v4.6l-3.2 3.2h-4.6l-3.2 -3.2v-4.6zM1528.9 581.2h4.6l3.2 3.2v4.6l-3.2 3.2h-4.6l-3.2 -3.2v-4.6zM1535.7 580.5h4.6l3.2 3.2v4.6l-3.2 3.2h-4.6l-3.2 -3.2v-4.6zM1542.5 575.9h4.6l3.2 3.2v4.6l-3.2 3.2h-4.6l-3.2 -3.2v-4.6zM1549.2 565.7h4.6l3.2 3.2v4.6l-3.2 3.2h-4.6l-3.2 -3.2v-4.6zM1556 553h4.6l3.2 3.2v4.6l-3.2 3.2h-4.6l-3.2 -3.2v-4.6zM1562.8 536.5h4.6l3.2 3.2v4.6l-3.2 3.2h-4.6l-3.2 -3.2v-4.6zM1569.6 512.2h4.6l3.2 3.2v4.6l-3.2 3.2h-4.6l-3.2 -3.2v-4.6zM1576.3 490.1h4.6l3.2 3.2v4.6l-3.2 3.2h-4.6l-3.2 -3.2v-4.6zM1583.1 460.7h4.6l3.2 3.2v4.6l-3.2 3.2h-4.6l-3.2 -3.2v-4.6zM1589.9 433.6h4.6l3.2 3.2v4.6l-3.2 3.2h-4.6l-3.2 -3.2v-4.6zM1596.6 403.2h4.6l3.2 3.2v4.6l-3.2 3.2h-4.6l-3.2 -3.2v-4.6zM1603.4 376.2h4.6l3.2 3.2v4.6l-3.2 3.2h-4.6l-3.2 -3.2v-4.6zM1610.2 348.7h4.6l3.2 3.2v4.6l-3.2 3.2h-4.6l-3.2 -3.2v-4.6zM1617 320.5h4.6l3.2 3.2v4.6l-3.2 3.2h-4.6l-3.2 -3.2v-4.6zM1623.8 296.2h4.6l3.2 3.2v4.6l-3.2 3.2h-4.6l-3.2 -3.2v-4.6zM1630.6 275.9h4.6l3.2 3.2v4.6l-3.2 3.2h-4.6l-3.2 -3.2v-4.6zM1637.4 261.4h4.6l3.2 3.2v4.6l-3.2 3.2h-4.6l-3.2 -3.2v-4.6zM1644.2 252.7h4.6l3.2 3.2v4.6l-3.2 3.2h-4.6l-3.2 -3.2v-4.6zM1651 244.3h4.6l3.2 3.2v4.6l-3.2 3.2h-4.6l-3.2 -3.2v-4.6zM1657.9 230h4.6l3.2 3.2v4.6l-3.2 3.2h-4.6l-3.2 -3.2v-4.6zM1664.7 236.9h4.6l3.2 3.2v4.6l-3.2 3.2h-4.6l-3.2 -3.2v-4.6zM1671.5 247.6h4.6l3.2 3.2v4.6l-3.2 3.2h-4.6l-3.2 -3.2v-4.6zM1678.3 277.8h4.6l3.2 3.2v4.6l-3.2 3.2h-4.6l-3.2 -3.2v-4.6zM1685.1 323.8h4.6l3.2 3.2v4.6l-3.2 3.2h-4.6l-3.2 -3.2v-4.6zM1691.7 391h4.6l3.2 3.2v4.6l-3.2 3.2h-4.6l-3.2 -3.2v-4.6zM1698.9 470.9h4.6l3.2 3.2v4.6l-3.2 3.2h-4.6l-3.2 -3.2v-4.6zM1705.7 554.9h4.6l3.2 3.2v4.6l-3.2 3.2h-4.6l-3.2 -3.2v-4.6zM1712.6 638.4h4.6l3.2 3.2v4.6l-3.2 3.2h-4.6l-3.2 -3.2v-4.6zM1719.3 724h4.6l3.2 3.2v4.6l-3.2 3.2h-4.6l-3.2 -3.2v-4.6zM1727.8 801.6h4.6l3.2 3.2v4.6l-3.2 3.2h-4.6l-3.2 -3.2v-4.6zM1733.4 871h4.6l3.2 3.2v4.6l-3.2 3.2h-4.6l-3.2 -3.2v-4.6zM1740.3 932.5h4.6l3.2 3.2v4.6l-3.2 3.2h-4.6l-3.2 -3.2v-4.6zM1746.4 985h4.6l3.2 3.2v4.6l-3.2 3.2h-4.6l-3.2 -3.2v-4.6zM1753.7 1028.5h4.6l3.2 3.2v4.6l-3.2 3.2h-4.6l-3.2 -3.2v-4.6zM1761.5 1066.5h4.6l3.2 3.2v4.6l-3.2 3.2h-4.6l-3.2 -3.2v-4.6zM1768 1094.2h4.6l3.2 3.2v4.6l-3.2 3.2h-4.6l-3.2 -3.2v-4.6zM1774.8 1123.4h4.6l3.2 3.2v4.6l-3.2 3.2h-4.6l-3.2 -3.2v-4.6zM1781.7 1137.3h4.6l3.2 3.2v4.6l-3.2 3.2h-4.6l-3.2 -3.2v-4.6zM1788.6 1156.7h4.6l3.2 3.2v4.6l-3.2 3.2h-4.6l-3.2 -3.2v-4.6zM1795.5 1167h4.6l3.2 3.2v4.6l-3.2 3.2h-4.6l-3.2 -3.2v-4.6zM1802.3 1181.6h4.6l3.2 3.2v4.6l-3.2 3.2h-4.6l-3.2 -3.2v-4.6zM1809.2 1189.8h4.6l3.2 3.2v4.6l-3.2 3.2h-4.6l-3.2 -3.2v-4.6zM1816.1 1195.6h4.6l3.2 3.2v4.6l-3.2 3.2h-4.6l-3.2 -3.2v-4.6zM1822.9 1201.3h4.6l3.2 3.2v4.6l-3.2 3.2h-4.6l-3.2 -3.2v-4.6zM1829.7 1206.1h4.6l3.2 3.2v4.6l-3.2 3.2h-4.6l-3.2 -3.2v-4.6zM1836.5 1209.8h4.6l3.2 3.2v4.6l-3.2 3.2h-4.6l-3.2 -3.2v-4.6zM1843.3 1212.3h4.6l3.2 3.2v4.6l-3.2 3.2h-4.6l-3.2 -3.2v-4.6zM1850.1 1214.4h4.6l3.2 3.2v4.6l-3.2 3.2h-4.6l-3.2 -3.2v-4.6zM1856.9 1216.3h4.6l3.2 3.2v4.6l-3.2 3.2h-4.6l-3.2 -3.2v-4.6zM1863.7 1218.1h4.6l3.2 3.2v4.6l-3.2 3.2h-4.6l-3.2 -3.2v-4.6zM1870.5 1219.7h4.6l3.2 3.2v4.6l-3.2 3.2h-4.6l-3.2 -3.2v-4.6zM1877.3 1221.2h4.6l3.2 3.2v4.6l-3.2 3.2h-4.6l-3.2 -3.2v-4.6zM1884.1 1222.6h4.6l3.2 3.2v4.6l-3.2 3.2h-4.6l-3.2 -3.2v-4.6zM1890.9 1223.8h4.6l3.2 3.2v4.6l-3.2 3.2h-4.6l-3.2 -3.2v-4.6zM1897.7 1224.9h4.6l3.2 3.2v4.6l-3.2 3.2h-4.6l-3.2 -3.2v-4.6zM1904.5 1225.8h4.6l3.2 3.2v4.6l-3.2 3.2h-4.6l-3.2 -3.2v-4.6zM1911.3 1226.5h4.6l3.2 3.2v4.6l-3.2 3.2h-4.6l-3.2 -3.2v-4.6zM1918.1 1227.1h4.6l3.2 3.2v4.6l-3.2 3.2h-4.6l-3.2 -3.2v-4.6zM1924.9 1227.7h4.6l3.2 3.2v4.6l-3.2 3.2h-4.6l-3.2 -3.2v-4.6zM1931.7 1228.3h4.6l3.2 3.2v4.6l-3.2 3.2h-4.6l-3.2 -3.2v-4.6zM1938.5 1228.8h4.6l3.2 3.2v4.6l-3.2 3.2h-4.6l-3.2 -3.2v-4.6zM1945.3 1229.4h4.6l3.2 3.2v4.6l-3.2 3.2h-4.6l-3.2 -3.2v-4.6zM1952.1 1230h4.6l3.2 3.2v4.6l-3.2 3.2h-4.6l-3.2 -3.2v-4.6zM1958.9 1230.5h4.6l3.2 3.2v4.6l-3.2 3.2h-4.6l-3.2 -3.2v-4.6zM1965.7 1231h4.6l3.2 3.2v4.6l-3.2 3.2h-4.6l-3.2 -3.2v-4.6zM1972.5 1231.3h4.6l3.2 3.2v4.6l-3.2 3.2h-4.6l-3.2 -3.2v-4.6zM1979.3 1231.7h4.6l3.2 3.2v4.6l-3.2 3.2h-4.6l-3.2 -3.2v-4.6zM1986.1 1231.9h4.6l3.2 3.2v4.6l-3.2 3.2h-4.6l-3.2 -3.2v-4.6zM1992.9 1232.2h4.6l3.2 3.2v4.6l-3.2 3.2h-4.6l-3.2 -3.2v-4.6zM1999.8 1232.5h4.6l3.2 3.2v4.6l-3.2 3.2h-4.6l-3.2 -3.2v-4.6zM2006.6 1232.7h4.6l3.2 3.2v4.6l-3.2 3.2h-4.6l-3.2 -3.2v-4.6zM2013.4 1232.9h4.6l3.2 3.2v4.6l-3.2 3.2h-4.6l-3.2 -3.2v-4.6zM2020.2 1233.2h4.6l3.2 3.2v4.6l-3.2 3.2h-4.6l-3.2 -3.2v-4.6zM2027 1233.4h4.6l3.2 3.2v4.6l-3.2 3.2h-4.6l-3.2 -3.2v-4.6zM2033.8 1233.6h4.6l3.2 3.2v4.6l-3.2 3.2h-4.6l-3.2 -3.2v-4.6zM2040.6 1233.8h4.6l3.2 3.2v4.6l-3.2 3.2h-4.6l-3.2 -3.2v-4.6zM2047.4 1233.9h4.6l3.2 3.2v4.6l-3.2 3.2h-4.6l-3.2 -3.2v-4.6zM2054.2 1234h4.6l3.2 3.2v4.6l-3.2 3.2h-4.6l-3.2 -3.2v-4.6zM2061 1234.1h4.6l3.2 3.2v4.6l-3.2 3.2h-4.6l-3.2 -3.2v-4.6zM2067.8 1234.2h4.6l3.2 3.2v4.6l-3.2 3.2h-4.6l-3.2 -3.2v-4.6zM2074.6 1234.3h4.6l3.2 3.2v4.6l-3.2 3.2h-4.6l-3.2 -3.2v-4.6zM2081.4 1234.4h4.6l3.2 3.2v4.6l-3.2 3.2h-4.6l-3.2 -3.2v-4.6zM2088.2 1234.5h4.6l3.2 3.2v4.6l-3.2 3.2h-4.6l-3.2 -3.2v-4.6zM2095 1234.6h4.6l3.2 3.2v4.6l-3.2 3.2h-4.6l-3.2 -3.2v-4.6zM2101.8 1234.7h4.6l3.2 3.2v4.6l-3.2 3.2h-4.6l-3.2 -3.2v-4.6zM2108.6 1234.7h4.6l3.2 3.2v4.6l-3.2 3.2h-4.6l-3.2 -3.2v-4.6zM2115.4 1234.7h4.6l3.2 3.2v4.6l-3.2 3.2h-4.6l-3.2 -3.2v-4.6zM2122.2 1234.7h4.6l3.2 3.2v4.6l-3.2 3.2h-4.6l-3.2 -3.2v-4.6z" fill="#008000"/>
<path d="M252 1080.2 258.8 1100 265.6 1115.6 272.4 1124.4 279.3 1129.1 286.1 1131.1 292.9 1128.6 299.7 1124.2 306.5 1112.9 313.3 1100 320.2 1081 327 1066.1 333.8 1051.4 340.6 1026.8 347.4 1003.9 354.2 975.5 361.1 945 367.9 919.7 374.7 882.3 381.5 852.6 388.3 831.7 395.1 826.3 402 845.2 408.8 873.6 415.6 908.9 422.4 960.7 429.2 1003.2 436 1042.7 442.8 1078.7 449.6 1107.2 456.4 1125.3 463.2 1139 470 1146.8 476.8 1153.5 483.6 1158.1 490.4 1160.7 497.2 1162.9 504.1 1165.2 510.9 1167.4 517.7 1169.5 524.5 1173.7 531.3 1180.6 538.1 1189.4 544.9 1198.7 551.7 1207.7 558.5 1214.4 565.3 1218.5 572.1 1221.1 578.9 1223.2 585.7 1225.1 592.5 1226.7 599.3 1227.9 606.1 1229 612.9 1229.9 619.7 1230.9 626.5 1231.9 633.3 1232.8 640.1 1233.6 646.9 1234.3 653.7 1235 660.5 1235.4 667.4 1235.8 674.2 1236.2 681 1236.5 687.8 1236.7 694.6 1237 701.4 1237.2 708.2 1237.4 715 1237.6 721.8 1237.8 728.6 1238 735.4 1238.2 742.2 1238.4 749 1238.6 755.8 1238.8 762.6 1239 769.4 1239.2 776.2 1239.3 783 1239.4 789.8 1239.5 796.6 1239.5 803.4 1239.5 810.2 1239.4 817 1239.3 823.9 1239.1 830.7 1238.9 837.5 1238.7 844.3 1238.4 851.1 1238.2 857.9 1237.9 864.7 1237.6 871.5 1237.1 878.3 1236.4 885.1 1235.5 891.9 1234.5 898.7 1233.4 905.5 1232.3 912.3 1231.2 919.1 1230.2 925.9 1229.4 932.7 1228.7 939.5 1228.4 946.3 1228.2 953.1 1228.1 959.9 1228 966.7 1227.9 973.5 1227.8 980.4 1227.7 987.2 1227.7 994 1227.6 1000.8 1227.5 1007.6 1227.4 1014.4 1227.2 1021.2 1226.9 1028 1226.6 1034.8 1226.1 1041.6 1225.6 1048.4 1225.1 1055.2 1224.6 1062 1224.1 1068.8 1223.5 1075.6 1223 1082.4 1222.4 1089.2 1221.8 1096 1221.3 1102.8 1220.8 1109.6 1220.2 1116.4 1219.6 1123.2 1219 1130 1218.4 1136.8 1217.8 1143.7 1217.2 1150.5 1216.4 1157.3 1215.6 1164.1 1214.7 1170.9 1213.7 1177.7 1212.4 1184.5 1211 1191.3 1209.4 1198.1 1207.7 1204.9 1205.8 1211.7 1203.7 1218.5 1201.3 1225.3 1198.7 1232.1 1195.9 1238.9 1192.9 1245.7 1189.3 1252.5 1185.2 1259.3 1180.8 1266.1 1176.1 1272.9 1171.5 1279.7 1166.9 1286.5 1162.3 1293.3 1157.5 1300.2 1152.3 1307 1146.6 1313.8 1140.2 1320.6 1133.1 1327.4 1125.3 1334.2 1117.6 1341 1109.8 1347.8 1100.8 1354.6 1091.5 1361.4 1082.7 1368.2 1071 1375 1060.2 1381.8 1047.1 1388.7 1034.3 1395.5 1020.9 1402.4 1005 1409.2 986.2 1416.1 967.7 1422.9 946.2 1429.8 927.7 1436.7 908.2 1443.5 889.2 1450.3 870 1457.1 855.2 1463.9 838.7 1470.7 827.8 1477.5 821.1 1484.4 817.7 1491.2 815.9 1498 816.4 1504.8 818.1 1511.6 820.8 1518.4 823 1525.2 823.9 1532 822.3 1538.8 818.4 1545.7 812 1552.5 803.8 1559.3 793.3 1566.1 779.5 1572.9 763.3 1579.7 746.1 1586.6 722.6 1593.5 704.7 1600.3 682.1 1607.2 659.6 1614.1 638.1 1620.9 616.6 1627.6 596.4 1634.4 579.9 1641.2 563.1 1647.9 550.2 1654.7 543.6 1661.5 541.1 1668.2 547.4 1675 558.8 1681.8 586.5 1688.5 621.1 1695.3 670.2 1702.1 724.8 1708.1 786.5 1715.6 846.2 1722.8 903.9 1730.1 958.9 1736.6 1005.5 1743.7 1047.5 1750.2 1082.1 1757.2 1115.4 1764 1139.3 1770.8 1158.7 1777.7 1173.6 1784.5 1185.7 1791.3 1195.8 1798.1 1202.8 1804.9 1208.7 1811.7 1213.6 1818.5 1217.7 1825.3 1221.5 1832.1 1224.7 1838.9 1227.3 1845.7 1229.5 1852.5 1231.3 1859.3 1232.6 1866.1 1233.6 1872.9 1234.4 1879.7 1235.1 1886.5 1235.7 1893.3 1236.2 1900.1 1236.7 1906.9 1237.2 1913.7 1237.6 1920.5 1238 1927.3 1238.4 1934.1 1238.7 1940.9 1239 1947.7 1239.3 1954.5 1239.6 1961.3 1239.9 1968.1 1240.1 1974.9 1240.3 1981.7 1240.5 1988.5 1240.6 1995.3 1240.7 2002.1 1240.8 2008.9 1240.9 2015.7 1241 2022.5 1241.1 2029.3 1241.1 2036.1 1241.2 2042.9 1241.3 2049.7 1241.3 2056.5 1241.4 2063.3 1241.4 2070.1 1241.5 2076.9 1241.5 2083.7 1241.5 2090.5 1241.6 2097.3 1241.6 2104.1 1241.6 2110.9 1241.7 2117.7 1241.7 2124.5 1241.7" fill="none" stroke="#ff5a5a" stroke-width="2" stroke-linejoin="round"/>
<path d="M250.8 1074.2L253.2 1074.2L257.4 1078.9L257.4 1081.5L253.2 1086.2L250.8 1086.2L246.6 1081.5L246.6 1078.9zM257.6 1094L260 1094L264.2 1098.6L264.2 1101.3L260 1106L257.6 1106L253.4 1101.3L253.4 1098.6zM264.4 1109.6L266.8 1109.6L271 1114.3L271 1116.9L266.8 1121.6L264.4 1121.6L260.2 1116.9L260.2 1114.3zM271.3 1118.4L273.6 1118.4L277.8 1123.1L277.8 1125.7L273.6 1130.4L271.3 1130.4L267 1125.7L267 1123.1zM278.1 1123.1L280.5 1123.1L284.7 1127.8L284.7 1130.4L280.5 1135.1L278.1 1135.1L273.9 1130.4L273.9 1127.8zM284.9 1125.1L287.3 1125.1L291.5 1129.7L291.5 1132.4L287.3 1137.1L284.9 1137.1L280.7 1132.4L280.7 1129.7zM291.7 1122.6L294.1 1122.6L298.3 1127.3L298.3 1129.9L294.1 1134.6L291.7 1134.6L287.5 1129.9L287.5 1127.3zM298.5 1118.2L300.9 1118.2L305.1 1122.8L305.1 1125.5L300.9 1130.2L298.5 1130.2L294.3 1125.5L294.3 1122.8zM305.3 1106.9L307.7 1106.9L311.9 1111.6L311.9 1114.2L307.7 1118.9L305.3 1118.9L301.1 1114.2L301.1 1111.6zM312.2 1094L314.5 1094L318.7 1098.6L318.7 1101.3L314.5 1106L312.2 1106L307.9 1101.3L307.9 1098.6zM319 1075L321.3 1075L325.6 1079.7L325.6 1082.3L321.3 1087L319 1087L314.8 1082.3L314.8 1079.7zM325.8 1060.1L328.2 1060.1L332.4 1064.8L332.4 1067.4L328.2 1072.1L325.8 1072.1L321.6 1067.4L321.6 1064.8zM332.6 1045.4L335 1045.4L339.2 1050.1L339.2 1052.7L335 1057.4L332.6 1057.4L328.4 1052.7L328.4 1050.1zM339.4 1020.8L341.8 1020.8L346 1025.5L346 1028.2L341.8 1032.8L339.4 1032.8L335.2 1028.2L335.2 1025.5zM346.2 997.9L348.6 997.9L352.8 1002.6L352.8 1005.2L348.6 1009.9L346.2 1009.9L342 1005.2L342 1002.6zM353.1 969.5L355.4 969.5L359.6 974.2L359.6 976.9L355.4 981.5L353.1 981.5L348.8 976.9L348.8 974.2zM359.9 939L362.2 939L366.5 943.7L366.5 946.3L362.2 951L359.9 951L355.7 946.3L355.7 943.7zM366.7 913.7L369.1 913.7L373.3 918.4L373.3 921L369.1 925.7L366.7 925.7L362.5 921L362.5 918.4zM373.5 876.3L375.9 876.3L380.1 881L380.1 883.7L375.9 888.3L373.5 888.3L369.3 883.7L369.3 881zM380.3 846.6L382.7 846.6L386.9 851.3L386.9 853.9L382.7 858.6L380.3 858.6L376.1 853.9L376.1 851.3zM387.1 825.7L389.5 825.7L393.7 830.4L393.7 833.1L389.5 837.7L387.1 837.7L382.9 833.1L382.9 830.4zM393.9 820.3L396.3 820.3L400.5 825L400.5 827.6L396.3 832.3L393.9 832.3L389.7 827.6L389.7 825zM400.8 839.2L403.1 839.2L407.4 843.9L407.4 846.5L403.1 851.2L400.8 851.2L396.6 846.5L396.6 843.9zM407.6 867.6L410 867.6L414.2 872.3L414.2 874.9L410 879.6L407.6 879.6L403.4 874.9L403.4 872.3zM414.4 902.9L416.8 902.9L421 907.6L421 910.2L416.8 914.9L414.4 914.9L410.2 910.2L410.2 907.6zM421.2 954.7L423.6 954.7L427.8 959.4L427.8 962L423.6 966.7L421.2 966.7L417 962L417 959.4zM428 997.2L430.4 997.2L434.6 1001.9L434.6 1004.5L430.4 1009.2L428 1009.2L423.8 1004.5L423.8 1001.9zM434.8 1036.7L437.2 1036.7L441.4 1041.4L441.4 1044L437.2 1048.7L434.8 1048.7L430.6 1044L430.6 1041.4zM441.6 1072.7L444 1072.7L448.2 1077.4L448.2 1080L444 1084.7L441.6 1084.7L437.4 1080L437.4 1077.4zM448.4 1101.2L450.8 1101.2L455 1105.9L455 1108.5L450.8 1113.2L448.4 1113.2L444.2 1108.5L444.2 1105.9zM455.2 1119.3L457.6 1119.3L461.8 1124L461.8 1126.6L457.6 1131.3L455.2 1131.3L451 1126.6L451 1124zM462 1133L464.4 1133L468.6 1137.7L468.6 1140.3L464.4 1145L462 1145L457.8 1140.3L457.8 1137.7zM468.8 1140.8L471.2 1140.8L475.4 1145.4L475.4 1148.1L471.2 1152.8L468.8 1152.8L464.6 1148.1L464.6 1145.4zM475.6 1147.5L478 1147.5L482.2 1152.2L482.2 1154.8L478 1159.5L475.6 1159.5L471.4 1154.8L471.4 1152.2zM482.5 1152.1L484.8 1152.1L489 1156.7L489 1159.4L484.8 1164.1L482.5 1164.1L478.2 1159.4L478.2 1156.7zM489.3 1154.7L491.6 1154.7L495.8 1159.4L495.8 1162L491.6 1166.7L489.3 1166.7L485 1162L485 1159.4zM496.1 1156.9L498.4 1156.9L502.6 1161.6L502.6 1164.2L498.4 1168.9L496.1 1168.9L491.8 1164.2L491.8 1161.6zM502.9 1159.2L505.2 1159.2L509.5 1163.8L509.5 1166.5L505.2 1171.2L502.9 1171.2L498.7 1166.5L498.7 1163.8zM509.7 1161.4L512 1161.4L516.3 1166.1L516.3 1168.7L512 1173.4L509.7 1173.4L505.5 1168.7L505.5 1166.1zM516.5 1163.5L518.8 1163.5L523.1 1168.1L523.1 1170.8L518.8 1175.5L516.5 1175.5L512.3 1170.8L512.3 1168.1zM523.3 1167.7L525.7 1167.7L529.9 1172.4L529.9 1175L525.7 1179.7L523.3 1179.7L519.1 1175L519.1 1172.4zM530.1 1174.6L532.5 1174.6L536.7 1179.2L536.7 1181.9L532.5 1186.6L530.1 1186.6L525.9 1181.9L525.9 1179.2zM536.9 1183.4L539.3 1183.4L543.5 1188L543.5 1190.7L539.3 1195.4L536.9 1195.4L532.7 1190.7L532.7 1188zM543.7 1192.7L546.1 1192.7L550.3 1197.3L550.3 1200L546.1 1204.7L543.7 1204.7L539.5 1200L539.5 1197.3zM550.5 1201.7L552.9 1201.7L557.1 1206.4L557.1 1209L552.9 1213.7L550.5 1213.7L546.3 1209L546.3 1206.4zM557.3 1208.4L559.7 1208.4L563.9 1213.1L563.9 1215.7L559.7 1220.4L557.3 1220.4L553.1 1215.7L553.1 1213.1zM564.1 1212.5L566.5 1212.5L570.7 1217.1L570.7 1219.8L566.5 1224.5L564.1 1224.5L559.9 1219.8L559.9 1217.1zM570.9 1215.1L573.3 1215.1L577.5 1219.8L577.5 1222.4L573.3 1227.1L570.9 1227.1L566.7 1222.4L566.7 1219.8zM577.7 1217.2L580.1 1217.2L584.3 1221.9L584.3 1224.6L580.1 1229.2L577.7 1229.2L573.5 1224.6L573.5 1221.9zM584.5 1219.1L586.9 1219.1L591.1 1223.8L591.1 1226.4L586.9 1231.1L584.5 1231.1L580.3 1226.4L580.3 1223.8zM591.3 1220.7L593.7 1220.7L597.9 1225.4L597.9 1228L593.7 1232.7L591.3 1232.7L587.1 1228L587.1 1225.4zM598.1 1221.9L600.5 1221.9L604.7 1226.6L604.7 1229.3L600.5 1233.9L598.1 1233.9L593.9 1229.3L593.9 1226.6zM604.9 1223L607.3 1223L611.5 1227.6L611.5 1230.3L607.3 1235L604.9 1235L600.7 1230.3L600.7 1227.6zM611.7 1223.9L614.1 1223.9L618.3 1228.6L618.3 1231.3L614.1 1235.9L611.7 1235.9L607.5 1231.3L607.5 1228.6zM618.5 1224.9L620.9 1224.9L625.1 1229.6L625.1 1232.2L620.9 1236.9L618.5 1236.9L614.3 1232.2L614.3 1229.6zM625.3 1225.9L627.7 1225.9L631.9 1230.6L631.9 1233.2L627.7 1237.9L625.3 1237.9L621.1 1233.2L621.1 1230.6zM632.1 1226.8L634.5 1226.8L638.7 1231.5L638.7 1234.1L634.5 1238.8L632.1 1238.8L627.9 1234.1L627.9 1231.5zM638.9 1227.6L641.3 1227.6L645.5 1232.3L645.5 1234.9L641.3 1239.6L638.9 1239.6L634.7 1234.9L634.7 1232.3zM645.8 1228.3L648.1 1228.3L652.3 1233L652.3 1235.7L648.1 1240.3L645.8 1240.3L641.5 1235.7L641.5 1233zM652.6 1229L654.9 1229L659.1 1233.6L659.1 1236.3L654.9 1241L652.6 1241L648.3 1236.3L648.3 1233.6zM659.4 1229.4L661.7 1229.4L665.9 1234.1L665.9 1236.8L661.7 1241.4L659.4 1241.4L655.1 1236.8L655.1 1234.1zM666.2 1229.8L668.5 1229.8L672.8 1234.5L672.8 1237.1L668.5 1241.8L666.2 1241.8L662 1237.1L662 1234.5zM673 1230.2L675.3 1230.2L679.6 1234.8L679.6 1237.5L675.3 1242.2L673 1242.2L668.8 1237.5L668.8 1234.8zM679.8 1230.5L682.2 1230.5L686.4 1235.1L686.4 1237.8L682.2 1242.5L679.8 1242.5L675.6 1237.8L675.6 1235.1zM686.6 1230.7L689 1230.7L693.2 1235.4L693.2 1238.1L689 1242.7L686.6 1242.7L682.4 1238.1L682.4 1235.4zM693.4 1231L695.8 1231L700 1235.7L700 1238.3L695.8 1243L693.4 1243L689.2 1238.3L689.2 1235.7zM700.2 1231.2L702.6 1231.2L706.8 1235.9L706.8 1238.5L702.6 1243.2L700.2 1243.2L696 1238.5L696 1235.9zM707 1231.4L709.4 1231.4L713.6 1236.1L713.6 1238.8L709.4 1243.4L707 1243.4L702.8 1238.8L702.8 1236.1zM713.8 1231.6L716.2 1231.6L720.4 1236.3L720.4 1239L716.2 1243.6L713.8 1243.6L709.6 1239L709.6 1236.3zM720.6 1231.8L723 1231.8L727.2 1236.5L727.2 1239.1L723 1243.8L720.6 1243.8L716.4 1239.1L716.4 1236.5zM727.4 1232L729.8 1232L734 1236.7L734 1239.3L729.8 1244L727.4 1244L723.2 1239.3L723.2 1236.7zM734.2 1232.2L736.6 1232.2L740.8 1236.9L740.8 1239.5L736.6 1244.2L734.2 1244.2L730 1239.5L730 1236.9zM741 1232.4L743.4 1232.4L747.6 1237.1L747.6 1239.7L743.4 1244.4L741 1244.4L736.8 1239.7L736.8 1237.1zM747.8 1232.6L750.2 1232.6L754.4 1237.3L754.4 1239.9L750.2 1244.6L747.8 1244.6L743.6 1239.9L743.6 1237.3zM754.6 1232.8L757 1232.8L761.2 1237.5L761.2 1240.1L757 1244.8L754.6 1244.8L750.4 1240.1L750.4 1237.5zM761.4 1233L763.8 1233L768 1237.7L768 1240.3L763.8 1245L761.4 1245L757.2 1240.3L757.2 1237.7zM768.2 1233.2L770.6 1233.2L774.8 1237.8L774.8 1240.5L770.6 1245.2L768.2 1245.2L764 1240.5L764 1237.8zM775 1233.3L777.4 1233.3L781.6 1238L781.6 1240.6L777.4 1245.3L775 1245.3L770.8 1240.6L770.8 1238zM781.8 1233.4L784.2 1233.4L788.4 1238.1L788.4 1240.7L784.2 1245.4L781.8 1245.4L777.6 1240.7L777.6 1238.1zM788.6 1233.5L791 1233.5L795.2 1238.1L795.2 1240.8L791 1245.5L788.6 1245.5L784.4 1240.8L784.4 1238.1zM795.4 1233.5L797.8 1233.5L802 1238.2L802 1240.8L797.8 1245.5L795.4 1245.5L791.2 1240.8L791.2 1238.2zM802.3 1233.5L804.6 1233.5L808.8 1238.1L808.8 1240.8L804.6 1245.5L802.3 1245.5L798 1240.8L798 1238.1zM809.1 1233.4L811.4 1233.4L815.6 1238.1L815.6 1240.7L811.4 1245.4L809.1 1245.4L804.8 1240.7L804.8 1238.1zM815.9 1233.3L818.2 1233.3L822.4 1237.9L822.4 1240.6L818.2 1245.3L815.9 1245.3L811.6 1240.6L811.6 1237.9zM822.7 1233.1L825 1233.1L829.3 1237.8L829.3 1240.4L825 1245.1L822.7 1245.1L818.5 1240.4L818.5 1237.8zM829.5 1232.9L831.8 1232.9L836.1 1237.6L836.1 1240.2L831.8 1244.9L829.5 1244.9L825.3 1240.2L825.3 1237.6zM836.3 1232.7L838.6 1232.7L842.9 1237.4L842.9 1240L838.6 1244.7L836.3 1244.7L832.1 1240L832.1 1237.4zM843.1 1232.4L845.5 1232.4L849.7 1237.1L849.7 1239.8L845.5 1244.4L843.1 1244.4L838.9 1239.8L838.9 1237.1zM849.9 1232.2L852.3 1232.2L856.5 1236.9L856.5 1239.5L852.3 1244.2L849.9 1244.2L845.7 1239.5L845.7 1236.9zM856.7 1231.9L859.1 1231.9L863.3 1236.6L863.3 1239.2L859.1 1243.9L856.7 1243.9L852.5 1239.2L852.5 1236.6zM863.5 1231.6L865.9 1231.6L870.1 1236.3L870.1 1238.9L865.9 1243.6L863.5 1243.6L859.3 1238.9L859.3 1236.3zM870.3 1231.1L872.7 1231.1L876.9 1235.8L876.9 1238.4L872.7 1243.1L870.3 1243.1L866.1 1238.4L866.1 1235.8zM877.1 1230.4L879.5 1230.4L883.7 1235.1L883.7 1237.7L879.5 1242.4L877.1 1242.4L872.9 1237.7L872.9 1235.1zM883.9 1229.5L886.3 1229.5L890.5 1234.2L890.5 1236.8L886.3 1241.5L883.9 1241.5L879.7 1236.8L879.7 1234.2zM890.7 1228.5L893.1 1228.5L897.3 1233.2L897.3 1235.8L893.1 1240.5L890.7 1240.5L886.5 1235.8L886.5 1233.2zM897.5 1227.4L899.9 1227.4L904.1 1232.1L904.1 1234.7L899.9 1239.4L897.5 1239.4L893.3 1234.7L893.3 1232.1zM904.3 1226.3L906.7 1226.3L910.9 1230.9L910.9 1233.6L906.7 1238.3L904.3 1238.3L900.1 1233.6L900.1 1230.9zM911.1 1225.2L913.5 1225.2L917.7 1229.9L917.7 1232.5L913.5 1237.2L911.1 1237.2L906.9 1232.5L906.9 1229.9zM917.9 1224.2L920.3 1224.2L924.5 1228.9L924.5 1231.5L920.3 1236.2L917.9 1236.2L913.7 1231.5L913.7 1228.9zM924.7 1223.4L927.1 1223.4L931.3 1228L931.3 1230.7L927.1 1235.4L924.7 1235.4L920.5 1230.7L920.5 1228zM931.5 1222.7L933.9 1222.7L938.1 1227.4L938.1 1230L933.9 1234.7L931.5 1234.7L927.3 1230L927.3 1227.4zM938.3 1222.4L940.7 1222.4L944.9 1227L944.9 1229.7L940.7 1234.4L938.3 1234.4L934.1 1229.7L934.1 1227zM945.1 1222.2L947.5 1222.2L951.7 1226.9L951.7 1229.5L947.5 1234.2L945.1 1234.2L940.9 1229.5L940.9 1226.9zM951.9 1222.1L954.3 1222.1L958.5 1226.7L958.5 1229.4L954.3 1234.1L951.9 1234.1L947.7 1229.4L947.7 1226.7zM958.8 1222L961.1 1222L965.3 1226.6L965.3 1229.3L961.1 1234L958.8 1234L954.5 1229.3L954.5 1226.6zM965.6 1221.9L967.9 1221.9L972.1 1226.6L972.1 1229.2L967.9 1233.9L965.6 1233.9L961.3 1229.2L961.3 1226.6zM972.4 1221.8L974.7 1221.8L978.9 1226.5L978.9 1229.1L974.7 1233.8L972.4 1233.8L968.1 1229.1L968.1 1226.5zM979.2 1221.7L981.5 1221.7L985.8 1226.4L985.8 1229.1L981.5 1233.7L979.2 1233.7L975 1229.1L975 1226.4zM986 1221.7L988.3 1221.7L992.6 1226.4L992.6 1229L988.3 1233.7L986 1233.7L981.8 1229L981.8 1226.4zM992.8 1221.6L995.1 1221.6L999.4 1226.3L999.4 1228.9L995.1 1233.6L992.8 1233.6L988.6 1228.9L988.6 1226.3zM999.6 1221.5L1002 1221.5L1006.2 1226.2L1006.2 1228.8L1002 1233.5L999.6 1233.5L995.4 1228.8L995.4 1226.2zM1006.4 1221.4L1008.8 1221.4L1013 1226L1013 1228.7L1008.8 1233.4L1006.4 1233.4L1002.2 1228.7L1002.2 1226zM1013.2 1221.2L1015.6 1221.2L1019.8 1225.9L1019.8 1228.5L1015.6 1233.2L1013.2 1233.2L1009 1228.5L1009 1225.9zM1020 1220.9L1022.4 1220.9L1026.6 1225.6L1026.6 1228.3L1022.4 1232.9L1020 1232.9L1015.8 1228.3L1015.8 1225.6zM1026.8 1220.6L1029.2 1220.6L1033.4 1225.2L1033.4 1227.9L1029.2 1232.6L1026.8 1232.6L1022.6 1227.9L1022.6 1225.2zM1033.6 1220.1L1036 1220.1L1040.2 1224.8L1040.2 1227.4L1036 1232.1L1033.6 1232.1L1029.4 1227.4L1029.4 1224.8zM1040.4 1219.6L1042.8 1219.6L1047 1224.3L1047 1226.9L1042.8 1231.6L1040.4 1231.6L1036.2 1226.9L1036.2 1224.3zM1047.2 1219.1L1049.6 1219.1L1053.8 1223.8L1053.8 1226.4L1049.6 1231.1L1047.2 1231.1L1043 1226.4L1043 1223.8zM1054 1218.6L1056.4 1218.6L1060.6 1223.3L1060.6 1225.9L1056.4 1230.6L1054 1230.6L1049.8 1225.9L1049.8 1223.3zM1060.8 1218.1L1063.2 1218.1L1067.4 1222.8L1067.4 1225.4L1063.2 1230.1L1060.8 1230.1L1056.6 1225.4L1056.6 1222.8zM1067.6 1217.5L1070 1217.5L1074.2 1222.2L1074.2 1224.8L1070 1229.5L1067.6 1229.5L1063.4 1224.8L1063.4 1222.2zM1074.4 1217L1076.8 1217L1081 1221.6L1081 1224.3L1076.8 1229L1074.4 1229L1070.2 1224.3L1070.2 1221.6zM1081.2 1216.4L1083.6 1216.4L1087.8 1221.1L1087.8 1223.7L1083.6 1228.4L1081.2 1228.4L1077 1223.7L1077 1221.1zM1088 1215.8L1090.4 1215.8L1094.6 1220.5L1094.6 1223.2L1090.4 1227.8L1088 1227.8L1083.8 1223.2L1083.8 1220.5zM1094.8 1215.3L1097.2 1215.3L1101.4 1220L1101.4 1222.6L1097.2 1227.3L1094.8 1227.3L1090.6 1222.6L1090.6 1220zM1101.6 1214.8L1104 1214.8L1108.2 1219.5L1108.2 1222.1L1104 1226.8L1101.6 1226.8L1097.4 1222.1L1097.4 1219.5zM1108.4 1214.2L1110.8 1214.2L1115 1218.9L1115 1221.5L1110.8 1226.2L1108.4 1226.2L1104.2 1221.5L1104.2 1218.9zM1115.2 1213.6L1117.6 1213.6L1121.8 1218.3L1121.8 1221L1117.6 1225.6L1115.2 1225.6L1111 1221L1111 1218.3zM1122.1 1213L1124.4 1213L1128.6 1217.7L1128.6 1220.4L1124.4 1225L1122.1 1225L1117.8 1220.4L1117.8 1217.7zM1128.9 1212.4L1131.2 1212.4L1135.4 1217.1L1135.4 1219.8L1131.2 1224.4L1128.9 1224.4L1124.6 1219.8L1124.6 1217.1zM1135.7 1211.8L1138 1211.8L1142.2 1216.5L1142.2 1219.1L1138 1223.8L1135.7 1223.8L1131.4 1219.1L1131.4 1216.5zM1142.5 1211.2L1144.8 1211.2L1149.1 1215.8L1149.1 1218.5L1144.8 1223.2L1142.5 1223.2L1138.3 1218.5L1138.3 1215.8zM1149.3 1210.4L1151.6 1210.4L1155.9 1215.1L1155.9 1217.7L1151.6 1222.4L1149.3 1222.4L1145.1 1217.7L1145.1 1215.1zM1156.1 1209.6L1158.5 1209.6L1162.7 1214.3L1162.7 1216.9L1158.5 1221.6L1156.1 1221.6L1151.9 1216.9L1151.9 1214.3zM1162.9 1208.7L1165.3 1208.7L1169.5 1213.4L1169.5 1216L1165.3 1220.7L1162.9 1220.7L1158.7 1216L1158.7 1213.4zM1169.7 1207.7L1172.1 1207.7L1176.3 1212.4L1176.3 1215L1172.1 1219.7L1169.7 1219.7L1165.5 1215L1165.5 1212.4zM1176.5 1206.4L1178.9 1206.4L1183.1 1211.1L1183.1 1213.7L1178.9 1218.4L1176.5 1218.4L1172.3 1213.7L1172.3 1211.1zM1183.3 1205L1185.7 1205L1189.9 1209.7L1189.9 1212.3L1185.7 1217L1183.3 1217L1179.1 1212.3L1179.1 1209.7zM1190.1 1203.4L1192.5 1203.4L1196.7 1208.1L1196.7 1210.7L1192.5 1215.4L1190.1 1215.4L1185.9 1210.7L1185.9 1208.1zM1196.9 1201.7L1199.3 1201.7L1203.5 1206.3L1203.5 1209L1199.3 1213.7L1196.9 1213.7L1192.7 1209L1192.7 1206.3zM1203.7 1199.8L1206.1 1199.8L1210.3 1204.5L1210.3 1207.1L1206.1 1211.8L1203.7 1211.8L1199.5 1207.1L1199.5 1204.5zM1210.5 1197.7L1212.9 1197.7L1217.1 1202.4L1217.1 1205L1212.9 1209.7L1210.5 1209.7L1206.3 1205L1206.3 1202.4zM1217.3 1195.3L1219.7 1195.3L1223.9 1200L1223.9 1202.6L1219.7 1207.3L1217.3 1207.3L1213.1 1202.6L1213.1 1200zM1224.1 1192.7L1226.5 1192.7L1230.7 1197.4L1230.7 1200.1L1226.5 1204.7L1224.1 1204.7L1219.9 1200.1L1219.9 1197.4zM1230.9 1189.9L1233.3 1189.9L1237.5 1194.6L1237.5 1197.2L1233.3 1201.9L1230.9 1201.9L1226.7 1197.2L1226.7 1194.6zM1237.7 1186.9L1240.1 1186.9L1244.3 1191.5L1244.3 1194.2L1240.1 1198.9L1237.7 1198.9L1233.5 1194.2L1233.5 1191.5zM1244.5 1183.3L1246.9 1183.3L1251.1 1188L1251.1 1190.6L1246.9 1195.3L1244.5 1195.3L1240.3 1190.6L1240.3 1188zM1251.3 1179.2L1253.7 1179.2L1257.9 1183.9L1257.9 1186.5L1253.7 1191.2L1251.3 1191.2L1247.1 1186.5L1247.1 1183.9zM1258.1 1174.8L1260.5 1174.8L1264.7 1179.4L1264.7 1182.1L1260.5 1186.8L1258.1 1186.8L1253.9 1182.1L1253.9 1179.4zM1264.9 1170.1L1267.3 1170.1L1271.5 1174.8L1271.5 1177.5L1267.3 1182.1L1264.9 1182.1L1260.7 1177.5L1260.7 1174.8zM1271.7 1165.5L1274.1 1165.5L1278.3 1170.2L1278.3 1172.8L1274.1 1177.5L1271.7 1177.5L1267.5 1172.8L1267.5 1170.2zM1278.6 1160.9L1280.9 1160.9L1285.1 1165.6L1285.1 1168.2L1280.9 1172.9L1278.6 1172.9L1274.3 1168.2L1274.3 1165.6zM1285.4 1156.3L1287.7 1156.3L1291.9 1161L1291.9 1163.6L1287.7 1168.3L1285.4 1168.3L1281.1 1163.6L1281.1 1161zM1292.2 1151.5L1294.5 1151.5L1298.7 1156.2L1298.7 1158.8L1294.5 1163.5L1292.2 1163.5L1287.9 1158.8L1287.9 1156.2zM1299 1146.3L1301.3 1146.3L1305.6 1151L1305.6 1153.7L1301.3 1158.3L1299 1158.3L1294.8 1153.7L1294.8 1151zM1305.8 1140.6L1308.1 1140.6L1312.4 1145.3L1312.4 1147.9L1308.1 1152.6L1305.8 1152.6L1301.6 1147.9L1301.6 1145.3zM1312.6 1134.2L1314.9 1134.2L1319.2 1138.9L1319.2 1141.5L1314.9 1146.2L1312.6 1146.2L1308.4 1141.5L1308.4 1138.9zM1319.4 1127.1L1321.8 1127.1L1326 1131.8L1326 1134.4L1321.8 1139.1L1319.4 1139.1L1315.2 1134.4L1315.2 1131.8zM1326.2 1119.3L1328.6 1119.3L1332.8 1124L1332.8 1126.6L1328.6 1131.3L1326.2 1131.3L1322 1126.6L1322 1124zM1333 1111.6L1335.4 1111.6L1339.6 1116.3L1339.6 1118.9L1335.4 1123.6L1333 1123.6L1328.8 1118.9L1328.8 1116.3zM1339.8 1103.8L1342.2 1103.8L1346.4 1108.5L1346.4 1111.1L1342.2 1115.8L1339.8 1115.8L1335.6 1111.1L1335.6 1108.5zM1346.6 1094.8L1349 1094.8L1353.2 1099.4L1353.2 1102.1L1349 1106.8L1346.6 1106.8L1342.4 1102.1L1342.4 1099.4zM1353.4 1085.5L1355.8 1085.5L1360 1090.2L1360 1092.8L1355.8 1097.5L1353.4 1097.5L1349.2 1092.8L1349.2 1090.2zM1360.2 1076.7L1362.6 1076.7L1366.8 1081.4L1366.8 1084L1362.6 1088.7L1360.2 1088.7L1356 1084L1356 1081.4zM1367 1065L1369.4 1065L1373.6 1069.6L1373.6 1072.3L1369.4 1077L1367 1077L1362.8 1072.3L1362.8 1069.6zM1373.8 1054.2L1376.2 1054.2L1380.4 1058.9L1380.4 1061.5L1376.2 1066.2L1373.8 1066.2L1369.6 1061.5L1369.6 1058.9zM1380.7 1041.1L1383 1041.1L1387.2 1045.8L1387.2 1048.4L1383 1053.1L1380.7 1053.1L1376.4 1048.4L1376.4 1045.8zM1387.5 1028.3L1389.9 1028.3L1394.1 1033L1394.1 1035.6L1389.9 1040.3L1387.5 1040.3L1383.3 1035.6L1383.3 1033zM1394.4 1014.9L1396.7 1014.9L1401 1019.5L1401 1022.2L1396.7 1026.9L1394.4 1026.9L1390.1 1022.2L1390.1 1019.5zM1401.2 999L1403.6 999L1407.8 1003.7L1407.8 1006.3L1403.6 1011L1401.2 1011L1397 1006.3L1397 1003.7zM1408.1 980.2L1410.4 980.2L1414.7 984.9L1414.7 987.5L1410.4 992.2L1408.1 992.2L1403.8 987.5L1403.8 984.9zM1414.9 961.7L1417.3 961.7L1421.5 966.4L1421.5 969.1L1417.3 973.7L1414.9 973.7L1410.7 969.1L1410.7 966.4zM1421.8 940.2L1424.1 940.2L1428.3 944.9L1428.3 947.5L1424.1 952.2L1421.8 952.2L1417.5 947.5L1417.5 944.9zM1428.6 921.7L1431 921.7L1435.2 926.4L1435.2 929L1431 933.7L1428.6 933.7L1424.4 929L1424.4 926.4zM1435.5 902.2L1437.8 902.2L1442.1 906.9L1442.1 909.6L1437.8 914.2L1435.5 914.2L1431.2 909.6L1431.2 906.9zM1442.3 883.2L1444.7 883.2L1448.9 887.8L1448.9 890.5L1444.7 895.2L1442.3 895.2L1438.1 890.5L1438.1 887.8zM1449.1 864L1451.5 864L1455.7 868.7L1455.7 871.4L1451.5 876L1449.1 876L1444.9 871.4L1444.9 868.7zM1455.9 849.2L1458.3 849.2L1462.5 853.9L1462.5 856.6L1458.3 861.2L1455.9 861.2L1451.7 856.6L1451.7 853.9zM1462.7 832.7L1465.1 832.7L1469.3 837.3L1469.3 840L1465.1 844.7L1462.7 844.7L1458.5 840L1458.5 837.3zM1469.6 821.8L1471.9 821.8L1476.1 826.5L1476.1 829.1L1471.9 833.8L1469.6 833.8L1465.3 829.1L1465.3 826.5zM1476.4 815.1L1478.7 815.1L1483 819.8L1483 822.4L1478.7 827.1L1476.4 827.1L1472.1 822.4L1472.1 819.8zM1483.2 811.7L1485.5 811.7L1489.8 816.4L1489.8 819L1485.5 823.7L1483.2 823.7L1479 819L1479 816.4zM1490 809.9L1492.4 809.9L1496.6 814.6L1496.6 817.2L1492.4 821.9L1490 821.9L1485.8 817.2L1485.8 814.6zM1496.8 810.4L1499.2 810.4L1503.4 815.1L1503.4 817.8L1499.2 822.4L1496.8 822.4L1492.6 817.8L1492.6 815.1zM1503.6 812.1L1506 812.1L1510.2 816.8L1510.2 819.4L1506 824.1L1503.6 824.1L1499.4 819.4L1499.4 816.8zM1510.4 814.8L1512.8 814.8L1517 819.4L1517 822.1L1512.8 826.8L1510.4 826.8L1506.2 822.1L1506.2 819.4zM1517.2 817L1519.6 817L1523.8 821.7L1523.8 824.3L1519.6 829L1517.2 829L1513 824.3L1513 821.7zM1524 817.9L1526.4 817.9L1530.6 822.6L1530.6 825.3L1526.4 829.9L1524 829.9L1519.8 825.3L1519.8 822.6zM1530.8 816.3L1533.2 816.3L1537.4 821L1537.4 823.6L1533.2 828.3L1530.8 828.3L1526.6 823.6L1526.6 821zM1537.7 812.4L1540 812.4L1544.2 817.1L1544.2 819.7L1540 824.4L1537.7 824.4L1533.4 819.7L1533.4 817.1zM1544.5 806L1546.8 806L1551.1 810.7L1551.1 813.4L1546.8 818L1544.5 818L1540.2 813.4L1540.2 810.7zM1551.3 797.8L1553.6 797.8L1557.9 802.5L1557.9 805.1L1553.6 809.8L1551.3 809.8L1547.1 805.1L1547.1 802.5zM1558.1 787.3L1560.5 787.3L1564.7 792L1564.7 794.6L1560.5 799.3L1558.1 799.3L1553.9 794.6L1553.9 792zM1564.9 773.5L1567.3 773.5L1571.5 778.2L1571.5 780.8L1567.3 785.5L1564.9 785.5L1560.7 780.8L1560.7 778.2zM1571.7 757.3L1574.1 757.3L1578.3 762L1578.3 764.6L1574.1 769.3L1571.7 769.3L1567.5 764.6L1567.5 762zM1578.5 740.1L1580.9 740.1L1585.1 744.8L1585.1 747.4L1580.9 752.1L1578.5 752.1L1574.3 747.4L1574.3 744.8zM1585.4 716.6L1587.8 716.6L1592 721.3L1592 723.9L1587.8 728.6L1585.4 728.6L1581.2 723.9L1581.2 721.3zM1592.3 698.7L1594.6 698.7L1598.9 703.4L1598.9 706L1594.6 710.7L1592.3 710.7L1588.1 706L1588.1 703.4zM1599.2 676.1L1601.5 676.1L1605.7 680.8L1605.7 683.4L1601.5 688.1L1599.2 688.1L1594.9 683.4L1594.9 680.8zM1606 653.6L1608.4 653.6L1612.6 658.3L1612.6 660.9L1608.4 665.6L1606 665.6L1601.8 660.9L1601.8 658.3zM1612.9 632.1L1615.3 632.1L1619.5 636.8L1619.5 639.4L1615.3 644.1L1612.9 644.1L1608.7 639.4L1608.7 636.8zM1619.7 610.6L1622.1 610.6L1626.3 615.3L1626.3 617.9L1622.1 622.6L1619.7 622.6L1615.5 617.9L1615.5 615.3zM1626.4 590.4L1628.8 590.4L1633 595.1L1633 597.7L1628.8 602.4L1626.4 602.4L1622.2 597.7L1622.2 595.1zM1633.2 573.9L1635.6 573.9L1639.8 578.6L1639.8 581.2L1635.6 585.9L1633.2 585.9L1629 581.2L1629 578.6zM1640 557.1L1642.4 557.1L1646.6 561.8L1646.6 564.4L1642.4 569.1L1640 569.1L1635.8 564.4L1635.8 561.8zM1646.7 544.2L1649.1 544.2L1653.3 548.9L1653.3 551.5L1649.1 556.2L1646.7 556.2L1642.5 551.5L1642.5 548.9zM1653.5 537.6L1655.9 537.6L1660.1 542.2L1660.1 544.9L1655.9 549.6L1653.5 549.6L1649.3 544.9L1649.3 542.2zM1660.3 535.1L1662.7 535.1L1666.9 539.8L1666.9 542.4L1662.7 547.1L1660.3 547.1L1656.1 542.4L1656.1 539.8zM1667 541.4L1669.4 541.4L1673.6 546.1L1673.6 548.7L1669.4 553.4L1667 553.4L1662.8 548.7L1662.8 546.1zM1673.8 552.8L1676.2 552.8L1680.4 557.5L1680.4 560.2L1676.2 564.8L1673.8 564.8L1669.6 560.2L1669.6 557.5zM1680.6 580.5L1683 580.5L1687.2 585.2L1687.2 587.9L1683 592.5L1680.6 592.5L1676.4 587.9L1676.4 585.2zM1687.3 615.1L1689.7 615.1L1693.9 619.8L1693.9 622.4L1689.7 627.1L1687.3 627.1L1683.1 622.4L1683.1 619.8zM1694.1 664.2L1696.5 664.2L1700.7 668.9L1700.7 671.6L1696.5 676.2L1694.1 676.2L1689.9 671.6L1689.9 668.9zM1700.9 718.8L1703.3 718.8L1707.5 723.5L1707.5 726.2L1703.3 730.8L1700.9 730.8L1696.7 726.2L1696.7 723.5zM1706.9 780.5L1709.3 780.5L1713.5 785.2L1713.5 787.8L1709.3 792.5L1706.9 792.5L1702.7 787.8L1702.7 785.2zM1714.4 840.2L1716.8 840.2L1721 844.9L1721 847.5L1716.8 852.2L1714.4 852.2L1710.2 847.5L1710.2 844.9zM1721.6 897.9L1724 897.9L1728.2 902.6L1728.2 905.2L1724 909.9L1721.6 909.9L1717.4 905.2L1717.4 902.6zM1728.9 952.9L1731.3 952.9L1735.5 957.6L1735.5 960.2L1731.3 964.9L1728.9 964.9L1724.7 960.2L1724.7 957.6zM1735.4 999.5L1737.8 999.5L1742 1004.2L1742 1006.8L1737.8 1011.5L1735.4 1011.5L1731.2 1006.8L1731.2 1004.2zM1742.5 1041.5L1744.9 1041.5L1749.1 1046.1L1749.1 1048.8L1744.9 1053.5L1742.5 1053.5L1738.3 1048.8L1738.3 1046.1zM1749 1076.1L1751.4 1076.1L1755.6 1080.8L1755.6 1083.4L1751.4 1088.1L1749 1088.1L1744.8 1083.4L1744.8 1080.8zM1756 1109.4L1758.4 1109.4L1762.6 1114.1L1762.6 1116.8L1758.4 1121.4L1756 1121.4L1751.8 1116.8L1751.8 1114.1zM1762.8 1133.3L1765.2 1133.3L1769.4 1138L1769.4 1140.7L1765.2 1145.3L1762.8 1145.3L1758.6 1140.7L1758.6 1138zM1769.7 1152.7L1772 1152.7L1776.2 1157.4L1776.2 1160L1772 1164.7L1769.7 1164.7L1765.4 1160L1765.4 1157.4zM1776.5 1167.6L1778.9 1167.6L1783.1 1172.3L1783.1 1174.9L1778.9 1179.6L1776.5 1179.6L1772.3 1174.9L1772.3 1172.3zM1783.3 1179.7L1785.7 1179.7L1789.9 1184.3L1789.9 1187L1785.7 1191.7L1783.3 1191.7L1779.1 1187L1779.1 1184.3zM1790.1 1189.8L1792.5 1189.8L1796.7 1194.5L1796.7 1197.1L1792.5 1201.8L1790.1 1201.8L1785.9 1197.1L1785.9 1194.5zM1796.9 1196.8L1799.3 1196.8L1803.5 1201.5L1803.5 1204.1L1799.3 1208.8L1796.9 1208.8L1792.7 1204.1L1792.7 1201.5zM1803.7 1202.7L1806.1 1202.7L1810.3 1207.4L1810.3 1210.1L1806.1 1214.7L1803.7 1214.7L1799.5 1210.1L1799.5 1207.4zM1810.5 1207.6L1812.9 1207.6L1817.1 1212.3L1817.1 1215L1812.9 1219.6L1810.5 1219.6L1806.3 1215L1806.3 1212.3zM1817.3 1211.7L1819.7 1211.7L1823.9 1216.3L1823.9 1219L1819.7 1223.7L1817.3 1223.7L1813.1 1219L1813.1 1216.3zM1824.1 1215.5L1826.5 1215.5L1830.7 1220.2L1830.7 1222.8L1826.5 1227.5L1824.1 1227.5L1819.9 1222.8L1819.9 1220.2zM1830.9 1218.7L1833.3 1218.7L1837.5 1223.4L1837.5 1226L1833.3 1230.7L1830.9 1230.7L1826.7 1226L1826.7 1223.4zM1837.7 1221.3L1840.1 1221.3L1844.3 1225.9L1844.3 1228.6L1840.1 1233.3L1837.7 1233.3L1833.5 1228.6L1833.5 1225.9zM1844.5 1223.5L1846.9 1223.5L1851.1 1228.2L1851.1 1230.9L1846.9 1235.5L1844.5 1235.5L1840.3 1230.9L1840.3 1228.2zM1851.3 1225.3L1853.7 1225.3L1857.9 1230L1857.9 1232.7L1853.7 1237.3L1851.3 1237.3L1847.1 1232.7L1847.1 1230zM1858.1 1226.6L1860.5 1226.6L1864.7 1231.3L1864.7 1233.9L1860.5 1238.6L1858.1 1238.6L1853.9 1233.9L1853.9 1231.3zM1864.9 1227.6L1867.3 1227.6L1871.5 1232.2L1871.5 1234.9L1867.3 1239.6L1864.9 1239.6L1860.7 1234.9L1860.7 1232.2zM1871.7 1228.4L1874.1 1228.4L1878.3 1233.1L1878.3 1235.7L1874.1 1240.4L1871.7 1240.4L1867.5 1235.7L1867.5 1233.1zM1878.5 1229.1L1880.9 1229.1L1885.1 1233.8L1885.1 1236.4L1880.9 1241.1L1878.5 1241.1L1874.3 1236.4L1874.3 1233.8zM1885.3 1229.7L1887.7 1229.7L1891.9 1234.4L1891.9 1237L1887.7 1241.7L1885.3 1241.7L1881.1 1237L1881.1 1234.4zM1892.1 1230.2L1894.5 1230.2L1898.7 1234.9L1898.7 1237.6L1894.5 1242.2L1892.1 1242.2L1887.9 1237.6L1887.9 1234.9zM1898.9 1230.7L1901.3 1230.7L1905.5 1235.4L1905.5 1238.1L1901.3 1242.7L1898.9 1242.7L1894.7 1238.1L1894.7 1235.4zM1905.7 1231.2L1908.1 1231.2L1912.3 1235.9L1912.3 1238.5L1908.1 1243.2L1905.7 1243.2L1901.5 1238.5L1901.5 1235.9zM1912.5 1231.6L1914.9 1231.6L1919.1 1236.3L1919.1 1239L1914.9 1243.6L1912.5 1243.6L1908.3 1239L1908.3 1236.3zM1919.3 1232L1921.7 1232L1925.9 1236.7L1925.9 1239.3L1921.7 1244L1919.3 1244L1915.1 1239.3L1915.1 1236.7zM1926.1 1232.4L1928.5 1232.4L1932.7 1237.1L1932.7 1239.7L1928.5 1244.4L1926.1 1244.4L1921.9 1239.7L1921.9 1237.1zM1932.9 1232.7L1935.3 1232.7L1939.5 1237.4L1939.5 1240L1935.3 1244.7L1932.9 1244.7L1928.7 1240L1928.7 1237.4zM1939.7 1233L1942.1 1233L1946.3 1237.7L1946.3 1240.3L1942.1 1245L1939.7 1245L1935.5 1240.3L1935.5 1237.7zM1946.5 1233.3L1948.9 1233.3L1953.1 1238L1953.1 1240.6L1948.9 1245.3L1946.5 1245.3L1942.3 1240.6L1942.3 1238zM1953.3 1233.6L1955.7 1233.6L1959.9 1238.3L1959.9 1240.9L1955.7 1245.6L1953.3 1245.6L1949.1 1240.9L1949.1 1238.3zM1960.1 1233.9L1962.5 1233.9L1966.7 1238.6L1966.7 1241.2L1962.5 1245.9L1960.1 1245.9L1955.9 1241.2L1955.9 1238.6zM1966.9 1234.1L1969.3 1234.1L1973.5 1238.8L1973.5 1241.5L1969.3 1246.1L1966.9 1246.1L1962.7 1241.5L1962.7 1238.8zM1973.7 1234.3L1976.1 1234.3L1980.3 1239L1980.3 1241.7L1976.1 1246.3L1973.7 1246.3L1969.5 1241.7L1969.5 1239zM1980.5 1234.5L1982.9 1234.5L1987.1 1239.2L1987.1 1241.8L1982.9 1246.5L1980.5 1246.5L1976.3 1241.8L1976.3 1239.2zM1987.3 1234.6L1989.7 1234.6L1993.9 1239.3L1993.9 1242L1989.7 1246.6L1987.3 1246.6L1983.1 1242L1983.1 1239.3zM1994.1 1234.7L1996.5 1234.7L2000.7 1239.4L2000.7 1242.1L1996.5 1246.7L1994.1 1246.7L1989.9 1242.1L1989.9 1239.4zM2000.9 1234.8L2003.3 1234.8L2007.5 1239.5L2007.5 1242.2L2003.3 1246.8L2000.9 1246.8L1996.7 1242.2L1996.7 1239.5zM2007.7 1234.9L2010.1 1234.9L2014.3 1239.6L2014.3 1242.3L2010.1 1246.9L2007.7 1246.9L2003.5 1242.3L2003.5 1239.6zM2014.5 1235L2016.9 1235L2021.1 1239.7L2021.1 1242.3L2016.9 1247L2014.5 1247L2010.3 1242.3L2010.3 1239.7zM2021.3 1235.1L2023.7 1235.1L2027.9 1239.8L2027.9 1242.4L2023.7 1247.1L2021.3 1247.1L2017.1 1242.4L2017.1 1239.8zM2028.1 1235.1L2030.5 1235.1L2034.7 1239.8L2034.7 1242.5L2030.5 1247.1L2028.1 1247.1L2023.9 1242.5L2023.9 1239.8zM2034.9 1235.2L2037.3 1235.2L2041.5 1239.9L2041.5 1242.5L2037.3 1247.2L2034.9 1247.2L2030.7 1242.5L2030.7 1239.9zM2041.7 1235.3L2044.1 1235.3L2048.3 1239.9L2048.3 1242.6L2044.1 1247.3L2041.7 1247.3L2037.5 1242.6L2037.5 1239.9zM2048.5 1235.3L2050.9 1235.3L2055.1 1240L2055.1 1242.6L2050.9 1247.3L2048.5 1247.3L2044.3 1242.6L2044.3 1240zM2055.3 1235.4L2057.7 1235.4L2061.9 1240L2061.9 1242.7L2057.7 1247.4L2055.3 1247.4L2051.1 1242.7L2051.1 1240zM2062.1 1235.4L2064.5 1235.4L2068.7 1240.1L2068.7 1242.7L2064.5 1247.4L2062.1 1247.4L2057.9 1242.7L2057.9 1240.1zM2068.9 1235.5L2071.3 1235.5L2075.5 1240.1L2075.5 1242.8L2071.3 1247.5L2068.9 1247.5L2064.7 1242.8L2064.7 1240.1zM2075.7 1235.5L2078.1 1235.5L2082.3 1240.2L2082.3 1242.8L2078.1 1247.5L2075.7 1247.5L2071.5 1242.8L2071.5 1240.2zM2082.5 1235.5L2084.9 1235.5L2089.1 1240.2L2089.1 1242.9L2084.9 1247.5L2082.5 1247.5L2078.3 1242.9L2078.3 1240.2zM2089.3 1235.6L2091.7 1235.6L2095.9 1240.3L2095.9 1242.9L2091.7 1247.6L2089.3 1247.6L2085.1 1242.9L2085.1 1240.3zM2096.1 1235.6L2098.5 1235.6L2102.7 1240.3L2102.7 1242.9L2098.5 1247.6L2096.1 1247.6L2091.9 1242.9L2091.9 1240.3zM2102.9 1235.6L2105.3 1235.6L2109.5 1240.3L2109.5 1243L2105.3 1247.6L2102.9 1247.6L2098.7 1243L2098.7 1240.3zM2109.7 1235.7L2112.1 1235.7L2116.3 1240.4L2116.3 1243L2112.1 1247.7L2109.7 1247.7L2105.5 1243L2105.5 1240.4zM2116.5 1235.7L2118.9 1235.7L2123.1 1240.4L2123.1 1243L2118.9 1247.7L2116.5 1247.7L2112.3 1243L2112.3 1240.4zM2123.3 1235.7L2125.7 1235.7L2129.9 1240.4L2129.9 1243L2125.7 1247.7L2123.3 1247.7L2119.1 1243L2119.1 1240.4z" fill="#ff0000"/>
<path d="M252 1186 258.8 1190.8 265.6 1196.5 272.4 1198.6 279.2 1200 286 1200.5 292.8 1198.8 299.6 1195.1 306.4 1190.9 313.2 1185.6 320 1179.2 326.8 1172.6 333.6 1165.4 340.4 1157.3 347.2 1147.7 354 1136.2 360.8 1124 367.6 1110.9 374.4 1099.4 381.2 1089.5 388 1082.6 394.8 1079.6 401.6 1085.8 408.4 1097.6 415.2 1113.2 422 1132.3 428.8 1151.6 435.6 1166.3 442.4 1182.7 449.2 1194.4 456 1202.8 462.8 1205.8 469.7 1207.6 476.5 1208.9 483.3 1209.7 490.1 1210.1 496.9 1210.4 503.7 1210.9 510.5 1211.6 517.3 1212.8 524.1 1216.1 530.9 1218.8 537.7 1221.6 544.5 1225.6 551.4 1229.9 558.2 1232.4 565 1233.9 571.8 1235.2 578.6 1236.5 585.4 1237.8 592.2 1239 599 1239.5 605.8 1239.8 612.6 1239.9 619.4 1240.1 626.2 1240.3 633 1240.5 639.9 1240.9 646.7 1241.3 653.5 1241.6 660.3 1242 667.1 1242.3 673.9 1242.6 680.7 1242.8 687.5 1243 694.3 1243.2 701.1 1243.4 707.9 1243.6 714.7 1243.8 721.6 1244.1 728.4 1244.3 735.2 1244.6 742 1245 748.8 1245.4 755.6 1245.8 762.4 1246.2 769.2 1246.5 776 1246.8 782.8 1247 789.6 1247.2 796.4 1247.4 803.2 1247.6 810.1 1247.8 816.9 1247.9 823.7 1248 830.5 1248 837.3 1248 844.1 1248 850.9 1248 857.7 1248 864.5 1248 871.3 1248 878.1 1248 884.9 1247.8 891.8 1247.5 898.6 1247.1 905.4 1246.7 912.2 1246.3 919 1245.9 925.8 1245.5 932.6 1245.1 939.4 1244.7 946.2 1244.4 953 1244.1 959.8 1243.9 966.6 1243.6 973.4 1243.4 980.3 1243.1 987.1 1242.9 993.9 1242.6 1000.7 1242.3 1007.5 1242 1014.3 1241.7 1021.1 1241.3 1027.9 1240.8 1034.7 1240.4 1041.5 1240 1048.3 1239.6 1055.1 1239.2 1062 1239 1068.8 1238.7 1075.6 1238.5 1082.4 1238.2 1089.2 1237.9 1096 1237.6 1102.8 1237.3 1109.6 1237 1116.4 1236.7 1123.2 1236.4 1130 1236.1 1136.8 1235.7 1143.6 1235.4 1150.5 1235 1157.3 1234.6 1164.1 1234.2 1170.9 1233.7 1177.7 1233.2 1184.5 1232.7 1191.3 1232 1198.1 1231.2 1204.9 1230.3 1211.7 1229.5 1218.5 1228.7 1225.3 1227.8 1232.2 1226.8 1239 1225.6 1245.8 1224.3 1252.6 1222.6 1259.4 1220.9 1266.2 1219.2 1273 1217.4 1279.8 1215.6 1286.6 1213.7 1293.5 1211.8 1300.3 1210.1 1307.1 1208.2 1313.9 1206.1 1320.7 1203.4 1327.6 1200.4 1334.4 1197.4 1341.2 1194.5 1348 1191.6 1354.8 1188.4 1361.7 1184.8 1368.5 1180.6 1375.3 1176 1382.1 1170.7 1388.9 1165.4 1395.8 1160.1 1402.6 1155.2 1409.4 1150.5 1416.2 1144.6 1423 1137.9 1429.9 1130.8 1436.7 1123.4 1443.5 1116.2 1450.3 1108.9 1457.1 1102.3 1464 1096.4 1470.8 1091.4 1477.6 1088 1484.4 1085.4 1491.2 1083.8 1498.1 1082.9 1504.9 1082.3 1511.7 1081.6 1518.5 1080.7 1525.3 1079.5 1532.2 1077.1 1539 1073.8 1545.8 1070 1552.6 1065.2 1559.4 1059.7 1566.3 1053.5 1573.1 1046.3 1579.9 1037.7 1586.7 1027.6 1593.5 1017.4 1600.4 1007.1 1607.2 997.1 1614 987.6 1620.8 978.5 1627.7 970.4 1634.5 962.9 1641.4 957 1648.2 952.5 1655.1 949.3 1661.9 949.2 1668.8 951.9 1675.7 957.2 1683 969 1689.7 984.1 1695.6 1005.4 1702.7 1033.1 1709.2 1057.2 1716.7 1086.7 1723.3 1108.4 1730.1 1128.8 1736.9 1151.2 1743.7 1169.4 1750.5 1185 1757.3 1197 1764.1 1207 1770.9 1214.9 1777.7 1220.6 1784.5 1224.7 1791.3 1227.8 1798.1 1230.1 1804.9 1231.9 1811.7 1233.5 1818.5 1235 1825.3 1236.9 1832.1 1239 1838.9 1240.9 1845.7 1241.9 1852.5 1242.6 1859.3 1243.1 1866.1 1243.6 1872.9 1243.9 1879.7 1244.2 1886.5 1244.4 1893.3 1244.5 1900.1 1244.6 1906.9 1244.7 1913.7 1244.9 1920.5 1245 1927.3 1245 1934.1 1245.1 1940.9 1245.2 1947.7 1245.3 1954.5 1245.3 1961.3 1245.4 1968.1 1245.4 1974.9 1245.4 1981.7 1245.4 1988.5 1245.4 1995.3 1245.4 2002.1 1245.4 2008.9 1245.4 2015.7 1245.4 2022.5 1245.4 2029.3 1245.4 2036.1 1245.4 2042.9 1245.4 2049.7 1245.4 2056.5 1245.4 2063.3 1245.4 2070.1 1245.4 2076.9 1245.4 2083.7 1245.4 2090.5 1245.4 2097.3 1245.4 2104.1 1245.4 2110.9 1245.4 2117.7 1245.4 2124.5 1245.4" fill="none" stroke="#6060ff" stroke-width="2.5" stroke-linejoin="round"/>
<path d="M265.6 1196.5L272.4 1198.6M272.4 1198.6L279.2 1200M279.2 1200L286 1200.5M286 1200.5L292.8 1198.8M388 1082.6L394.8 1079.6M456 1202.8L462.8 1205.8M462.8 1205.8L469.7 1207.6M469.7 1207.6L476.5 1208.9M476.5 1208.9L483.3 1209.7M483.3 1209.7L490.1 1210.1M490.1 1210.1L496.9 1210.4M496.9 1210.4L503.7 1210.9M503.7 1210.9L510.5 1211.6M510.5 1211.6L517.3 1212.8M517.3 1212.8L524.1 1216.1M524.1 1216.1L530.9 1218.8M530.9 1218.8L537.7 1221.6M551.4 1229.9L558.2 1232.4M558.2 1232.4L565 1233.9M565 1233.9L571.8 1235.2M571.8 1235.2L578.6 1236.5M578.6 1236.5L585.4 1237.8M585.4 1237.8L592.2 1239M592.2 1239L599 1239.5M599 1239.5L605.8 1239.8M605.8 1239.8L612.6 1239.9M612.6 1239.9L619.4 1240.1M619.4 1240.1L626.2 1240.3M626.2 1240.3L633 1240.5M633 1240.5L639.9 1240.9M639.9 1240.9L646.7 1241.3M646.7 1241.3L653.5 1241.6M653.5 1241.6L660.3 1242M660.3 1242L667.1 1242.3M667.1 1242.3L673.9 1242.6M673.9 1242.6L680.7 1242.8M680.7 1242.8L687.5 1243M687.5 1243L694.3 1243.2M694.3 1243.2L701.1 1243.4M701.1 1243.4L707.9 1243.6M707.9 1243.6L714.7 1243.8M714.7 1243.8L721.6 1244.1M721.6 1244.1L728.4 1244.3M728.4 1244.3L735.2 1244.6M735.2 1244.6L742 1245M742 1245L748.8 1245.4M748.8 1245.4L755.6 1245.8M755.6 1245.8L762.4 1246.2M762.4 1246.2L769.2 1246.5M769.2 1246.5L776 1246.8M776 1246.8L782.8 1247M782.8 1247L789.6 1247.2M789.6 1247.2L796.4 1247.4M796.4 1247.4L803.2 1247.6M803.2 1247.6L810.1 1247.8M810.1 1247.8L816.9 1247.9M816.9 1247.9L823.7 1248M823.7 1248L830.5 1248M830.5 1248L837.3 1248M837.3 1248L844.1 1248M844.1 1248L850.9 1248M850.9 1248L857.7 1248M857.7 1248L864.5 1248M864.5 1248L871.3 1248M871.3 1248L878.1 1248M878.1 1248L884.9 1247.8M884.9 1247.8L891.8 1247.5M891.8 1247.5L898.6 1247.1M898.6 1247.1L905.4 1246.7M905.4 1246.7L912.2 1246.3M912.2 1246.3L919 1245.9M919 1245.9L925.8 1245.5M925.8 1245.5L932.6 1245.1M932.6 1245.1L939.4 1244.7M939.4 1244.7L946.2 1244.4M946.2 1244.4L953 1244.1M953 1244.1L959.8 1243.9M959.8 1243.9L966.6 1243.6M966.6 1243.6L973.4 1243.4M973.4 1243.4L980.3 1243.1M980.3 1243.1L987.1 1242.9M987.1 1242.9L993.9 1242.6M993.9 1242.6L1000.7 1242.3M1000.7 1242.3L1007.5 1242M1007.5 1242L1014.3 1241.7M1014.3 1241.7L1021.1 1241.3M1021.1 1241.3L1027.9 1240.8M1027.9 1240.8L1034.7 1240.4M1034.7 1240.4L1041.5 1240M1041.5 1240L1048.3 1239.6M1048.3 1239.6L1055.1 1239.2M1055.1 1239.2L1062 1239M1062 1239L1068.8 1238.7M1068.8 1238.7L1075.6 1238.5M1075.6 1238.5L1082.4 1238.2M1082.4 1238.2L1089.2 1237.9M1089.2 1237.9L1096 1237.6M1096 1237.6L1102.8 1237.3M1102.8 1237.3L1109.6 1237M1109.6 1237L1116.4 1236.7M1116.4 1236.7L1123.2 1236.4M1123.2 1236.4L1130 1236.1M1130 1236.1L1136.8 1235.7M1136.8 1235.7L1143.6 1235.4M1143.6 1235.4L1150.5 1235M1150.5 1235L1157.3 1234.6M1157.3 1234.6L1164.1 1234.2M1164.1 1234.2L1170.9 1233.7M1170.9 1233.7L1177.7 1233.2M1177.7 1233.2L1184.5 1232.7M1184.5 1232.7L1191.3 1232M1191.3 1232L1198.1 1231.2M1198.1 1231.2L1204.9 1230.3M1204.9 1230.3L1211.7 1229.5M1211.7 1229.5L1218.5 1228.7M1218.5 1228.7L1225.3 1227.8M1225.3 1227.8L1232.2 1226.8M1232.2 1226.8L1239 1225.6M1239 1225.6L1245.8 1224.3M1245.8 1224.3L1252.6 1222.6M1252.6 1222.6L1259.4 1220.9M1259.4 1220.9L1266.2 1219.2M1266.2 1219.2L1273 1217.4M1273 1217.4L1279.8 1215.6M1279.8 1215.6L1286.6 1213.7M1286.6 1213.7L1293.5 1211.8M1293.5 1211.8L1300.3 1210.1M1300.3 1210.1L1307.1 1208.2M1307.1 1208.2L1313.9 1206.1M1313.9 1206.1L1320.7 1203.4M1320.7 1203.4L1327.6 1200.4M1327.6 1200.4L1334.4 1197.4M1334.4 1197.4L1341.2 1194.5M1341.2 1194.5L1348 1191.6M1348 1191.6L1354.8 1188.4M1470.8 1091.4L1477.6 1088M1477.6 1088L1484.4 1085.4M1484.4 1085.4L1491.2 1083.8M1491.2 1083.8L1498.1 1082.9M1498.1 1082.9L1504.9 1082.3M1504.9 1082.3L1511.7 1081.6M1511.7 1081.6L1518.5 1080.7M1518.5 1080.7L1525.3 1079.5M1525.3 1079.5L1532.2 1077.1M1532.2 1077.1L1539 1073.8M1648.2 952.5L1655.1 949.3M1655.1 949.3L1661.9 949.2M1661.9 949.2L1668.8 951.9M1784.5 1224.7L1791.3 1227.8M1791.3 1227.8L1798.1 1230.1M1798.1 1230.1L1804.9 1231.9M1804.9 1231.9L1811.7 1233.5M1811.7 1233.5L1818.5 1235M1818.5 1235L1825.3 1236.9M1825.3 1236.9L1832.1 1239M1832.1 1239L1838.9 1240.9M1838.9 1240.9L1845.7 1241.9M1845.7 1241.9L1852.5 1242.6M1852.5 1242.6L1859.3 1243.1M1859.3 1243.1L1866.1 1243.6M1866.1 1243.6L1872.9 1243.9M1872.9 1243.9L1879.7 1244.2M1879.7 1244.2L1886.5 1244.4M1886.5 1244.4L1893.3 1244.5M1893.3 1244.5L1900.1 1244.6M1900.1 1244.6L1906.9 1244.7M1906.9 1244.7L1913.7 1244.9M1913.7 1244.9L1920.5 1245M1920.5 1245L1927.3 1245M1927.3 1245L1934.1 1245.1M1934.1 1245.1L1940.9 1245.2M1940.9 1245.2L1947.7 1245.3M1947.7 1245.3L1954.5 1245.3M1954.5 1245.3L1961.3 1245.4M1961.3 1245.4L1968.1 1245.4M1968.1 1245.4L1974.9 1245.4M1974.9 1245.4L1981.7 1245.4M1981.7 1245.4L1988.5 1245.4M1988.5 1245.4L1995.3 1245.4M1995.3 1245.4L2002.1 1245.4M2002.1 1245.4L2008.9 1245.4M2008.9 1245.4L2015.7 1245.4M2015.7 1245.4L2022.5 1245.4M2022.5 1245.4L2029.3 1245.4M2029.3 1245.4L2036.1 1245.4M2036.1 1245.4L2042.9 1245.4M2042.9 1245.4L2049.7 1245.4M2049.7 1245.4L2056.5 1245.4M2056.5 1245.4L2063.3 1245.4M2063.3 1245.4L2070.1 1245.4M2070.1 1245.4L2076.9 1245.4M2076.9 1245.4L2083.7 1245.4M2083.7 1245.4L2090.5 1245.4M2090.5 1245.4L2097.3 1245.4M2097.3 1245.4L2104.1 1245.4M2104.1 1245.4L2110.9 1245.4M2110.9 1245.4L2117.7 1245.4M2117.7 1245.4L2124.5 1245.4" fill="none" stroke="#0000ff" stroke-width="6" stroke-linecap="round"/>
<path d="M252 1180.3l5.8 11.5h-11.5zM258.8 1185l5.8 11.5h-11.5zM265.6 1190.8l5.8 11.5h-11.5zM272.4 1192.8l5.8 11.5h-11.5zM279.2 1194.3l5.8 11.5h-11.5zM286 1194.7l5.8 11.5h-11.5zM292.8 1193l5.8 11.5h-11.5zM299.6 1189.3l5.8 11.5h-11.5zM306.4 1185.1l5.8 11.5h-11.5zM313.2 1179.9l5.8 11.5h-11.5zM320 1173.5l5.8 11.5h-11.5zM326.8 1166.8l5.8 11.5h-11.5zM333.6 1159.6l5.8 11.5h-11.5zM340.4 1151.5l5.8 11.5h-11.5zM347.2 1141.9l5.8 11.5h-11.5zM354 1130.4l5.8 11.5h-11.5zM360.8 1118.2l5.8 11.5h-11.5zM367.6 1105.2l5.8 11.5h-11.5zM374.4 1093.7l5.8 11.5h-11.5zM381.2 1083.7l5.8 11.5h-11.5zM388 1076.8l5.8 11.5h-11.5zM394.8 1073.9l5.8 11.5h-11.5zM401.6 1080l5.8 11.5h-11.5zM408.4 1091.9l5.8 11.5h-11.5zM415.2 1107.4l5.8 11.5h-11.5zM422 1126.6l5.8 11.5h-11.5zM428.8 1145.8l5.8 11.5h-11.5zM435.6 1160.6l5.8 11.5h-11.5zM442.4 1176.9l5.8 11.5h-11.5zM449.2 1188.6l5.8 11.5h-11.5zM456 1197l5.8 11.5h-11.5zM462.8 1200l5.8 11.5h-11.5zM469.7 1201.9l5.8 11.5h-11.5zM476.5 1203.2l5.8 11.5h-11.5zM483.3 1203.9l5.8 11.5h-11.5zM490.1 1204.3l5.8 11.5h-11.5zM496.9 1204.7l5.8 11.5h-11.5zM503.7 1205.2l5.8 11.5h-11.5zM510.5 1205.8l5.8 11.5h-11.5zM517.3 1207l5.8 11.5h-11.5zM524.1 1210.3l5.8 11.5h-11.5zM530.9 1213.1l5.8 11.5h-11.5zM537.7 1215.9l5.8 11.5h-11.5zM544.5 1219.8l5.8 11.5h-11.5zM551.4 1224.2l5.8 11.5h-11.5zM558.2 1226.6l5.8 11.5h-11.5zM565 1228.2l5.8 11.5h-11.5zM571.8 1229.4l5.8 11.5h-11.5zM578.6 1230.7l5.8 11.5h-11.5zM585.4 1232.1l5.8 11.5h-11.5zM592.2 1233.2l5.8 11.5h-11.5zM599 1233.8l5.8 11.5h-11.5zM605.8 1234l5.8 11.5h-11.5zM612.6 1234.2l5.8 11.5h-11.5zM619.4 1234.3l5.8 11.5h-11.5zM626.2 1234.5l5.8 11.5h-11.5zM633 1234.8l5.8 11.5h-11.5zM639.9 1235.1l5.8 11.5h-11.5zM646.7 1235.5l5.8 11.5h-11.5zM653.5 1235.9l5.8 11.5h-11.5zM660.3 1236.2l5.8 11.5h-11.5zM667.1 1236.6l5.8 11.5h-11.5zM673.9 1236.8l5.8 11.5h-11.5zM680.7 1237.1l5.8 11.5h-11.5zM687.5 1237.3l5.8 11.5h-11.5zM694.3 1237.5l5.8 11.5h-11.5zM701.1 1237.7l5.8 11.5h-11.5zM707.9 1237.9l5.8 11.5h-11.5zM714.7 1238.1l5.8 11.5h-11.5zM721.6 1238.3l5.8 11.5h-11.5zM728.4 1238.6l5.8 11.5h-11.5zM735.2 1238.9l5.8 11.5h-11.5zM742 1239.2l5.8 11.5h-11.5zM748.8 1239.6l5.8 11.5h-11.5zM755.6 1240l5.8 11.5h-11.5zM762.4 1240.4l5.8 11.5h-11.5zM769.2 1240.8l5.8 11.5h-11.5zM776 1241.1l5.8 11.5h-11.5zM782.8 1241.3l5.8 11.5h-11.5zM789.6 1241.5l5.8 11.5h-11.5zM796.4 1241.7l5.8 11.5h-11.5zM803.2 1241.9l5.8 11.5h-11.5zM810.1 1242l5.8 11.5h-11.5zM816.9 1242.2l5.8 11.5h-11.5zM823.7 1242.2l5.8 11.5h-11.5zM830.5 1242.3l5.8 11.5h-11.5zM837.3 1242.3l5.8 11.5h-11.5zM844.1 1242.3l5.8 11.5h-11.5zM850.9 1242.3l5.8 11.5h-11.5zM857.7 1242.3l5.8 11.5h-11.5zM864.5 1242.3l5.8 11.5h-11.5zM871.3 1242.3l5.8 11.5h-11.5zM878.1 1242.2l5.8 11.5h-11.5zM884.9 1242l5.8 11.5h-11.5zM891.8 1241.7l5.8 11.5h-11.5zM898.6 1241.4l5.8 11.5h-11.5zM905.4 1241l5.8 11.5h-11.5zM912.2 1240.6l5.8 11.5h-11.5zM919 1240.1l5.8 11.5h-11.5zM925.8 1239.7l5.8 11.5h-11.5zM932.6 1239.3l5.8 11.5h-11.5zM939.4 1239l5.8 11.5h-11.5zM946.2 1238.7l5.8 11.5h-11.5zM953 1238.4l5.8 11.5h-11.5zM959.8 1238.1l5.8 11.5h-11.5zM966.6 1237.9l5.8 11.5h-11.5zM973.4 1237.6l5.8 11.5h-11.5zM980.3 1237.4l5.8 11.5h-11.5zM987.1 1237.1l5.8 11.5h-11.5zM993.9 1236.8l5.8 11.5h-11.5zM1000.7 1236.5l5.8 11.5h-11.5zM1007.5 1236.2l5.8 11.5h-11.5zM1014.3 1235.9l5.8 11.5h-11.5zM1021.1 1235.5l5.8 11.5h-11.5zM1027.9 1235.1l5.8 11.5h-11.5zM1034.7 1234.6l5.8 11.5h-11.5zM1041.5 1234.2l5.8 11.5h-11.5zM1048.3 1233.8l5.8 11.5h-11.5zM1055.1 1233.5l5.8 11.5h-11.5zM1062 1233.2l5.8 11.5h-11.5zM1068.8 1233l5.8 11.5h-11.5zM1075.6 1232.7l5.8 11.5h-11.5zM1082.4 1232.4l5.8 11.5h-11.5zM1089.2 1232.1l5.8 11.5h-11.5zM1096 1231.8l5.8 11.5h-11.5zM1102.8 1231.5l5.8 11.5h-11.5zM1109.6 1231.2l5.8 11.5h-11.5zM1116.4 1230.9l5.8 11.5h-11.5zM1123.2 1230.6l5.8 11.5h-11.5zM1130 1230.3l5.8 11.5h-11.5zM1136.8 1230l5.8 11.5h-11.5zM1143.6 1229.6l5.8 11.5h-11.5zM1150.5 1229.2l5.8 11.5h-11.5zM1157.3 1228.8l5.8 11.5h-11.5zM1164.1 1228.4l5.8 11.5h-11.5zM1170.9 1228l5.8 11.5h-11.5zM1177.7 1227.5l5.8 11.5h-11.5zM1184.5 1226.9l5.8 11.5h-11.5zM1191.3 1226.2l5.8 11.5h-11.5zM1198.1 1225.4l5.8 11.5h-11.5zM1204.9 1224.6l5.8 11.5h-11.5zM1211.7 1223.8l5.8 11.5h-11.5zM1218.5 1222.9l5.8 11.5h-11.5zM1225.3 1222l5.8 11.5h-11.5zM1232.2 1221l5.8 11.5h-11.5zM1239 1219.9l5.8 11.5h-11.5zM1245.8 1218.5l5.8 11.5h-11.5zM1252.6 1216.9l5.8 11.5h-11.5zM1259.4 1215.2l5.8 11.5h-11.5zM1266.2 1213.4l5.8 11.5h-11.5zM1273 1211.7l5.8 11.5h-11.5zM1279.8 1209.8l5.8 11.5h-11.5zM1286.6 1207.9l5.8 11.5h-11.5zM1293.5 1206.1l5.8 11.5h-11.5zM1300.3 1204.3l5.8 11.5h-11.5zM1307.1 1202.5l5.8 11.5h-11.5zM1313.9 1200.3l5.8 11.5h-11.5zM1320.7 1197.7l5.8 11.5h-11.5zM1327.6 1194.7l5.8 11.5h-11.5zM1334.4 1191.6l5.8 11.5h-11.5zM1341.2 1188.7l5.8 11.5h-11.5zM1348 1185.8l5.8 11.5h-11.5zM1354.8 1182.6l5.8 11.5h-11.5zM1361.7 1179l5.8 11.5h-11.5zM1368.5 1174.8l5.8 11.5h-11.5zM1375.3 1170.2l5.8 11.5h-11.5zM1382.1 1165l5.8 11.5h-11.5zM1388.9 1159.7l5.8 11.5h-11.5zM1395.8 1154.4l5.8 11.5h-11.5zM1402.6 1149.4l5.8 11.5h-11.5zM1409.4 1144.7l5.8 11.5h-11.5zM1416.2 1138.8l5.8 11.5h-11.5zM1423 1132.1l5.8 11.5h-11.5zM1429.9 1125.1l5.8 11.5h-11.5zM1436.7 1117.7l5.8 11.5h-11.5zM1443.5 1110.4l5.8 11.5h-11.5zM1450.3 1103.1l5.8 11.5h-11.5zM1457.1 1096.6l5.8 11.5h-11.5zM1464 1090.7l5.8 11.5h-11.5zM1470.8 1085.7l5.8 11.5h-11.5zM1477.6 1082.2l5.8 11.5h-11.5zM1484.4 1079.6l5.8 11.5h-11.5zM1491.2 1078l5.8 11.5h-11.5zM1498.1 1077.2l5.8 11.5h-11.5zM1504.9 1076.6l5.8 11.5h-11.5zM1511.7 1075.8l5.8 11.5h-11.5zM1518.5 1075l5.8 11.5h-11.5zM1525.3 1073.8l5.8 11.5h-11.5zM1532.2 1071.3l5.8 11.5h-11.5zM1539 1068l5.8 11.5h-11.5zM1545.8 1064.2l5.8 11.5h-11.5zM1552.6 1059.4l5.8 11.5h-11.5zM1559.4 1054l5.8 11.5h-11.5zM1566.3 1047.8l5.8 11.5h-11.5zM1573.1 1040.5l5.8 11.5h-11.5zM1579.9 1031.9l5.8 11.5h-11.5zM1586.7 1021.8l5.8 11.5h-11.5zM1593.5 1011.7l5.8 11.5h-11.5zM1600.4 1001.4l5.8 11.5h-11.5zM1607.2 991.3l5.8 11.5h-11.5zM1614 981.8l5.8 11.5h-11.5zM1620.8 972.8l5.8 11.5h-11.5zM1627.7 964.7l5.8 11.5h-11.5zM1634.5 957.2l5.8 11.5h-11.5zM1641.4 951.3l5.8 11.5h-11.5zM1648.2 946.8l5.8 11.5h-11.5zM1655.1 943.5l5.8 11.5h-11.5zM1661.9 943.4l5.8 11.5h-11.5zM1668.8 946.1l5.8 11.5h-11.5zM1675.7 951.4l5.8 11.5h-11.5zM1683 963.2l5.8 11.5h-11.5zM1689.7 978.3l5.8 11.5h-11.5zM1695.6 999.7l5.8 11.5h-11.5zM1702.7 1027.3l5.8 11.5h-11.5zM1709.2 1051.5l5.8 11.5h-11.5zM1716.7 1081l5.8 11.5h-11.5zM1723.3 1102.6l5.8 11.5h-11.5zM1730.1 1123.1l5.8 11.5h-11.5zM1736.9 1145.5l5.8 11.5h-11.5zM1743.7 1163.6l5.8 11.5h-11.5zM1750.5 1179.2l5.8 11.5h-11.5zM1757.3 1191.2l5.8 11.5h-11.5zM1764.1 1201.3l5.8 11.5h-11.5zM1770.9 1209.2l5.8 11.5h-11.5zM1777.7 1214.9l5.8 11.5h-11.5zM1784.5 1218.9l5.8 11.5h-11.5zM1791.3 1222l5.8 11.5h-11.5zM1798.1 1224.4l5.8 11.5h-11.5zM1804.9 1226.2l5.8 11.5h-11.5zM1811.7 1227.7l5.8 11.5h-11.5zM1818.5 1229.3l5.8 11.5h-11.5zM1825.3 1231.1l5.8 11.5h-11.5zM1832.1 1233.3l5.8 11.5h-11.5zM1838.9 1235.1l5.8 11.5h-11.5zM1845.7 1236.2l5.8 11.5h-11.5zM1852.5 1236.8l5.8 11.5h-11.5zM1859.3 1237.4l5.8 11.5h-11.5zM1866.1 1237.8l5.8 11.5h-11.5zM1872.9 1238.2l5.8 11.5h-11.5zM1879.7 1238.5l5.8 11.5h-11.5zM1886.5 1238.6l5.8 11.5h-11.5zM1893.3 1238.7l5.8 11.5h-11.5zM1900.1 1238.9l5.8 11.5h-11.5zM1906.9 1239l5.8 11.5h-11.5zM1913.7 1239.1l5.8 11.5h-11.5zM1920.5 1239.2l5.8 11.5h-11.5zM1927.3 1239.3l5.8 11.5h-11.5zM1934.1 1239.4l5.8 11.5h-11.5zM1940.9 1239.4l5.8 11.5h-11.5zM1947.7 1239.5l5.8 11.5h-11.5zM1954.5 1239.6l5.8 11.5h-11.5zM1961.3 1239.6l5.8 11.5h-11.5zM1968.1 1239.6l5.8 11.5h-11.5zM1974.9 1239.7l5.8 11.5h-11.5zM1981.7 1239.7l5.8 11.5h-11.5zM1988.5 1239.7l5.8 11.5h-11.5zM1995.3 1239.7l5.8 11.5h-11.5zM2002.1 1239.7l5.8 11.5h-11.5zM2008.9 1239.7l5.8 11.5h-11.5zM2015.7 1239.7l5.8 11.5h-11.5zM2022.5 1239.7l5.8 11.5h-11.5zM2029.3 1239.7l5.8 11.5h-11.5zM2036.1 1239.7l5.8 11.5h-11.5zM2042.9 1239.7l5.8 11.5h-11.5zM2049.7 1239.7l5.8 11.5h-11.5zM2056.5 1239.7l5.8 11.5h-11.5zM2063.3 1239.7l5.8 11.5h-11.5zM2070.1 1239.7l5.8 11.5h-11.5zM2076.9 1239.7l5.8 11.5h-11.5zM2083.7 1239.7l5.8 11.5h-11.5zM2090.5 1239.7l5.8 11.5h-11.5zM2097.3 1239.7l5.8 11.5h-11.5zM2104.1 1239.7l5.8 11.5h-11.5zM2110.9 1239.7l5.8 11.5h-11.5zM2117.7 1239.7l5.8 11.5h-11.5zM2124.5 1239.7l5.8 11.5h-11.5z" fill="#0000ff"/>
<path d="M252 1210.2 258.8 1212.7 265.6 1214.3 272.4 1215.6 279.2 1216.7 286 1217.2 292.8 1216 299.6 1213.4 306.4 1210.4 313.2 1206.2 320 1201.7 326.8 1198.1 333.6 1195.1 340.4 1192.3 347.2 1189.7 354 1187.2 360.8 1184.6 367.6 1181.7 374.4 1178.5 381.2 1175.7 388 1173.6 394.8 1173.1 401.6 1175.7 408.4 1179.5 415.2 1183.7 422 1189.7 428.8 1199 435.6 1206.8 442.4 1212.9 449.2 1216.5 456 1219.1 462.8 1220.7 469.7 1222 476.5 1222.9 483.3 1223.4 490.1 1223.7 496.9 1224 503.7 1224.3 510.5 1224.7 517.3 1225.1 524.1 1225.7 530.9 1226.5 537.7 1227.6 544.5 1228.7 551.4 1229.4 558.2 1229.9 565 1230.3 571.8 1230.7 578.6 1231.2 585.4 1231.9 592.2 1232.7 599 1233.6 605.8 1234.4 612.6 1235 619.4 1235.3 626.2 1235.6 633 1235.8 639.9 1236.1 646.7 1236.2 653.5 1236.4 660.3 1236.6 667.1 1236.8 673.9 1237 680.7 1237.2 687.5 1237.4 694.3 1237.7 701.1 1237.9 707.9 1238.1 714.7 1238.4 721.6 1238.6 728.4 1238.8 735.2 1239 742 1239.1 748.8 1239.3 755.6 1239.4 762.4 1239.5 769.2 1239.6 776 1239.6 782.8 1239.7 789.6 1239.8 796.4 1239.9 803.2 1239.9 810.1 1240 816.9 1240 823.7 1240.1 830.5 1240.1 837.3 1240.2 844.1 1240.2 850.9 1240.2 857.7 1240.2 864.5 1240.2 871.3 1240.2 878.1 1240.2 884.9 1240.2 891.8 1240.2 898.6 1240.2 905.4 1240.2 912.2 1240.2 919 1240.2 925.8 1240.2 932.6 1240.2 939.4 1240.2 946.2 1240.2 953 1240.2 959.8 1240.1 966.6 1240 973.4 1239.9 980.3 1239.8 987.1 1239.6 993.9 1239.5 1000.7 1239.4 1007.5 1239.2 1014.3 1239.1 1021.1 1239 1027.9 1238.8 1034.7 1238.6 1041.5 1238.4 1048.3 1238.2 1055.1 1238.1 1062 1237.9 1068.8 1237.7 1075.6 1237.5 1082.4 1237.4 1089.2 1237.3 1096 1237.2 1102.8 1237.1 1109.6 1237.1 1116.4 1237 1123.2 1237 1130 1236.9 1136.8 1236.9 1143.6 1236.9 1150.5 1236.8 1157.3 1236.8 1164.1 1236.7 1170.9 1236.7 1177.7 1236.6 1184.5 1236.5 1191.3 1236.4 1198.1 1236.3 1204.9 1236.2 1211.7 1236.1 1218.5 1235.9 1225.3 1235.7 1232.2 1235.6 1239 1235.3 1245.8 1235.1 1252.6 1234.8 1259.4 1234.5 1266.2 1234 1273 1233.2 1279.8 1232.4 1286.6 1231.4 1293.5 1230.4 1300.3 1229.2 1307.1 1227.9 1313.9 1227 1320.7 1226.3 1327.6 1225.8 1334.4 1225.1 1341.2 1224 1348 1222.5 1354.8 1220.9 1361.7 1219.3 1368.5 1218 1375.3 1216.9 1382.1 1215.8 1388.9 1214.7 1395.8 1213.6 1402.6 1212.1 1409.4 1210.3 1416.2 1208.3 1423 1206 1429.9 1203.4 1436.7 1200.4 1443.5 1198.6 1450.3 1197.5 1457.1 1196.3 1464 1194.4 1470.8 1191.7 1477.6 1190 1484.4 1188.8 1491.2 1187.8 1498.1 1186.8 1504.9 1185.7 1511.7 1184.4 1518.5 1182.8 1525.3 1181.1 1532.2 1179.3 1539 1177.3 1545.8 1175.2 1552.6 1173 1559.4 1170.5 1566.3 1168 1573.1 1165.4 1579.9 1162.8 1586.7 1159.9 1593.5 1157 1600.4 1154.2 1607.2 1151.5 1614 1149.1 1620.8 1146.7 1627.7 1144.5 1634.5 1142.3 1641.4 1140.4 1648.2 1138.3 1655.1 1136.6 1661.9 1136.5 1668.8 1138.1 1675.7 1140.5 1682.5 1144.3 1689.3 1149.5 1696.1 1155.1 1702.9 1162.4 1709.7 1170.7 1716.5 1179.3 1723.3 1186.3 1730.1 1192.4 1736.9 1200.3 1743.7 1208.1 1750.5 1215.1 1757.3 1220.9 1764.1 1225.8 1770.9 1229.2 1777.7 1231.9 1784.5 1234 1791.3 1235.8 1798.1 1237.2 1804.9 1238.4 1811.7 1239.1 1818.5 1239.7 1825.3 1240.2 1832.1 1240.7 1838.9 1240.9 1845.7 1241 1852.5 1241 1859.3 1241 1866.1 1241 1872.9 1241 1879.7 1241 1886.5 1241 1893.3 1241 1900.1 1241 1906.9 1241 1913.7 1241 1920.5 1241 1927.3 1241 1934.1 1241 1940.9 1241 1947.7 1241 1954.5 1241 1961.3 1241 1968.1 1241 1974.9 1241 1981.7 1241 1988.5 1241 1995.3 1241 2002.1 1241 2008.9 1241 2015.7 1241 2022.5 1241 2029.3 1241 2036.1 1241 2042.9 1241 2049.7 1241 2056.5 1241 2063.3 1241 2070.1 1241 2076.9 1241 2083.7 1241 2090.5 1241 2097.3 1241 2104.1 1241 2110.9 1241 2117.7 1241 2124.5 1241" fill="none" stroke="#30a8a8" stroke-width="2.5" stroke-linejoin="round"/>
<path d="M252 1210.2L258.8 1212.7M258.8 1212.7L265.6 1214.3M265.6 1214.3L272.4 1215.6M272.4 1215.6L279.2 1216.7M279.2 1216.7L286 1217.2M286 1217.2L292.8 1216M292.8 1216L299.6 1213.4M299.6 1213.4L306.4 1210.4M326.8 1198.1L333.6 1195.1M333.6 1195.1L340.4 1192.3M340.4 1192.3L347.2 1189.7M347.2 1189.7L354 1187.2M354 1187.2L360.8 1184.6M360.8 1184.6L367.6 1181.7M367.6 1181.7L374.4 1178.5M374.4 1178.5L381.2 1175.7M381.2 1175.7L388 1173.6M388 1173.6L394.8 1173.1M394.8 1173.1L401.6 1175.7M449.2 1216.5L456 1219.1M456 1219.1L462.8 1220.7M462.8 1220.7L469.7 1222M469.7 1222L476.5 1222.9M476.5 1222.9L483.3 1223.4M483.3 1223.4L490.1 1223.7M490.1 1223.7L496.9 1224M496.9 1224L503.7 1224.3M503.7 1224.3L510.5 1224.7M510.5 1224.7L517.3 1225.1M517.3 1225.1L524.1 1225.7M524.1 1225.7L530.9 1226.5M530.9 1226.5L537.7 1227.6M537.7 1227.6L544.5 1228.7M544.5 1228.7L551.4 1229.4M551.4 1229.4L558.2 1229.9M558.2 1229.9L565 1230.3M565 1230.3L571.8 1230.7M571.8 1230.7L578.6 1231.2M578.6 1231.2L585.4 1231.9M585.4 1231.9L592.2 1232.7M592.2 1232.7L599 1233.6M599 1233.6L605.8 1234.4M605.8 1234.4L612.6 1235M612.6 1235L619.4 1235.3M619.4 1235.3L626.2 1235.6M626.2 1235.6L633 1235.8M633 1235.8L639.9 1236.1M639.9 1236.1L646.7 1236.2M646.7 1236.2L653.5 1236.4M653.5 1236.4L660.3 1236.6M660.3 1236.6L667.1 1236.8M667.1 1236.8L673.9 1237M673.9 1237L680.7 1237.2M680.7 1237.2L687.5 1237.4M687.5 1237.4L694.3 1237.7M694.3 1237.7L701.1 1237.9M701.1 1237.9L707.9 1238.1M707.9 1238.1L714.7 1238.4M714.7 1238.4L721.6 1238.6M721.6 1238.6L728.4 1238.8M728.4 1238.8L735.2 1239M735.2 1239L742 1239.1M742 1239.1L748.8 1239.3M748.8 1239.3L755.6 1239.4M755.6 1239.4L762.4 1239.5M762.4 1239.5L769.2 1239.6M769.2 1239.6L776 1239.6M776 1239.6L782.8 1239.7M782.8 1239.7L789.6 1239.8M789.6 1239.8L796.4 1239.9M796.4 1239.9L803.2 1239.9M803.2 1239.9L810.1 1240M810.1 1240L816.9 1240M816.9 1240L823.7 1240.1M823.7 1240.1L830.5 1240.1M830.5 1240.1L837.3 1240.2M837.3 1240.2L844.1 1240.2M844.1 1240.2L850.9 1240.2M850.9 1240.2L857.7 1240.2M857.7 1240.2L864.5 1240.2M864.5 1240.2L871.3 1240.2M871.3 1240.2L878.1 1240.2M878.1 1240.2L884.9 1240.2M884.9 1240.2L891.8 1240.2M891.8 1240.2L898.6 1240.2M898.6 1240.2L905.4 1240.2M905.4 1240.2L912.2 1240.2M912.2 1240.2L919 1240.2M919 1240.2L925.8 1240.2M925.8 1240.2L932.6 1240.2M932.6 1240.2L939.4 1240.2M939.4 1240.2L946.2 1240.2M946.2 1240.2L953 1240.2M953 1240.2L959.8 1240.1M959.8 1240.1L966.6 1240M966.6 1240L973.4 1239.9M973.4 1239.9L980.3 1239.8M980.3 1239.8L987.1 1239.6M987.1 1239.6L993.9 1239.5M993.9 1239.5L1000.7 1239.4M1000.7 1239.4L1007.5 1239.2M1007.5 1239.2L1014.3 1239.1M1014.3 1239.1L1021.1 1239M1021.1 1239L1027.9 1238.8M1027.9 1238.8L1034.7 1238.6M1034.7 1238.6L1041.5 1238.4M1041.5 1238.4L1048.3 1238.2M1048.3 1238.2L1055.1 1238.1M1055.1 1238.1L1062 1237.9M1062 1237.9L1068.8 1237.7M1068.8 1237.7L1075.6 1237.5M1075.6 1237.5L1082.4 1237.4M1082.4 1237.4L1089.2 1237.3M1089.2 1237.3L1096 1237.2M1096 1237.2L1102.8 1237.1M1102.8 1237.1L1109.6 1237.1M1109.6 1237.1L1116.4 1237M1116.4 1237L1123.2 1237M1123.2 1237L1130 1236.9M1130 1236.9L1136.8 1236.9M1136.8 1236.9L1143.6 1236.9M1143.6 1236.9L1150.5 1236.8M1150.5 1236.8L1157.3 1236.8M1157.3 1236.8L1164.1 1236.7M1164.1 1236.7L1170.9 1236.7M1170.9 1236.7L1177.7 1236.6M1177.7 1236.6L1184.5 1236.5M1184.5 1236.5L1191.3 1236.4M1191.3 1236.4L1198.1 1236.3M1198.1 1236.3L1204.9 1236.2M1204.9 1236.2L1211.7 1236.1M1211.7 1236.1L1218.5 1235.9M1218.5 1235.9L1225.3 1235.7M1225.3 1235.7L1232.2 1235.6M1232.2 1235.6L1239 1235.3M1239 1235.3L1245.8 1235.1M1245.8 1235.1L1252.6 1234.8M1252.6 1234.8L1259.4 1234.5M1259.4 1234.5L1266.2 1234M1266.2 1234L1273 1233.2M1273 1233.2L1279.8 1232.4M1279.8 1232.4L1286.6 1231.4M1286.6 1231.4L1293.5 1230.4M1293.5 1230.4L1300.3 1229.2M1300.3 1229.2L1307.1 1227.9M1307.1 1227.9L1313.9 1227M1313.9 1227L1320.7 1226.3M1320.7 1226.3L1327.6 1225.8M1327.6 1225.8L1334.4 1225.1M1334.4 1225.1L1341.2 1224M1341.2 1224L1348 1222.5M1348 1222.5L1354.8 1220.9M1354.8 1220.9L1361.7 1219.3M1361.7 1219.3L1368.5 1218M1368.5 1218L1375.3 1216.9M1375.3 1216.9L1382.1 1215.8M1382.1 1215.8L1388.9 1214.7M1388.9 1214.7L1395.8 1213.6M1395.8 1213.6L1402.6 1212.1M1402.6 1212.1L1409.4 1210.3M1409.4 1210.3L1416.2 1208.3M1416.2 1208.3L1423 1206M1423 1206L1429.9 1203.4M1429.9 1203.4L1436.7 1200.4M1436.7 1200.4L1443.5 1198.6M1443.5 1198.6L1450.3 1197.5M1450.3 1197.5L1457.1 1196.3M1457.1 1196.3L1464 1194.4M1464 1194.4L1470.8 1191.7M1470.8 1191.7L1477.6 1190M1477.6 1190L1484.4 1188.8M1484.4 1188.8L1491.2 1187.8M1491.2 1187.8L1498.1 1186.8M1498.1 1186.8L1504.9 1185.7M1504.9 1185.7L1511.7 1184.4M1511.7 1184.4L1518.5 1182.8M1518.5 1182.8L1525.3 1181.1M1525.3 1181.1L1532.2 1179.3M1532.2 1179.3L1539 1177.3M1539 1177.3L1545.8 1175.2M1545.8 1175.2L1552.6 1173M1552.6 1173L1559.4 1170.5M1559.4 1170.5L1566.3 1168M1566.3 1168L1573.1 1165.4M1573.1 1165.4L1579.9 1162.8M1579.9 1162.8L1586.7 1159.9M1586.7 1159.9L1593.5 1157M1593.5 1157L1600.4 1154.2M1600.4 1154.2L1607.2 1151.5M1607.2 1151.5L1614 1149.1M1614 1149.1L1620.8 1146.7M1620.8 1146.7L1627.7 1144.5M1627.7 1144.5L1634.5 1142.3M1634.5 1142.3L1641.4 1140.4M1641.4 1140.4L1648.2 1138.3M1648.2 1138.3L1655.1 1136.6M1655.1 1136.6L1661.9 1136.5M1661.9 1136.5L1668.8 1138.1M1668.8 1138.1L1675.7 1140.5M1764.1 1225.8L1770.9 1229.2M1770.9 1229.2L1777.7 1231.9M1777.7 1231.9L1784.5 1234M1784.5 1234L1791.3 1235.8M1791.3 1235.8L1798.1 1237.2M1798.1 1237.2L1804.9 1238.4M1804.9 1238.4L1811.7 1239.1M1811.7 1239.1L1818.5 1239.7M1818.5 1239.7L1825.3 1240.2M1825.3 1240.2L1832.1 1240.7M1832.1 1240.7L1838.9 1240.9M1838.9 1240.9L1845.7 1241M1845.7 1241L1852.5 1241M1852.5 1241L1859.3 1241M1859.3 1241L1866.1 1241M1866.1 1241L1872.9 1241M1872.9 1241L1879.7 1241M1879.7 1241L1886.5 1241M1886.5 1241L1893.3 1241M1893.3 1241L1900.1 1241M1900.1 1241L1906.9 1241M1906.9 1241L1913.7 1241M1913.7 1241L1920.5 1241M1920.5 1241L1927.3 1241M1927.3 1241L1934.1 1241M1934.1 1241L1940.9 1241M1940.9 1241L1947.7 1241M1947.7 1241L1954.5 1241M1954.5 1241L1961.3 1241M1961.3 1241L1968.1 1241M1968.1 1241L1974.9 1241M1974.9 1241L1981.7 1241M1981.7 1241L1988.5 1241M1988.5 1241L1995.3 1241M1995.3 1241L2002.1 1241M2002.1 1241L2008.9 1241M2008.9 1241L2015.7 1241M2015.7 1241L2022.5 1241M2022.5 1241L2029.3 1241M2029.3 1241L2036.1 1241M2036.1 1241L2042.9 1241M2042.9 1241L2049.7 1241M2049.7 1241L2056.5 1241M2056.5 1241L2063.3 1241M2063.3 1241L2070.1 1241M2070.1 1241L2076.9 1241M2076.9 1241L2083.7 1241M2083.7 1241L2090.5 1241M2090.5 1241L2097.3 1241M2097.3 1241L2104.1 1241M2104.1 1241L2110.9 1241M2110.9 1241L2117.7 1241M2117.7 1241L2124.5 1241" fill="none" stroke="#008080" stroke-width="6" stroke-linecap="round"/>
<path d="M246.2 1204.4h11.5l-5.8 11.5zM253.1 1206.9h11.5l-5.8 11.5zM259.9 1208.6h11.5l-5.8 11.5zM266.6 1209.8h11.5l-5.8 11.5zM273.4 1211h11.5l-5.8 11.5zM280.2 1211.5h11.5l-5.8 11.5zM287.1 1210.2h11.5l-5.8 11.5zM293.9 1207.6h11.5l-5.8 11.5zM300.6 1204.7h11.5l-5.8 11.5zM307.4 1200.4h11.5l-5.8 11.5zM314.2 1195.9h11.5l-5.8 11.5zM321.1 1192.3h11.5l-5.8 11.5zM327.9 1189.3h11.5l-5.8 11.5zM334.6 1186.5h11.5l-5.8 11.5zM341.4 1183.9h11.5l-5.8 11.5zM348.2 1181.4h11.5l-5.8 11.5zM355.1 1178.9h11.5l-5.8 11.5zM361.9 1176h11.5l-5.8 11.5zM368.6 1172.8h11.5l-5.8 11.5zM375.4 1169.9h11.5l-5.8 11.5zM382.2 1167.9h11.5l-5.8 11.5zM389 1167.3h11.5l-5.8 11.5zM395.9 1169.9h11.5l-5.8 11.5zM402.6 1173.8h11.5l-5.8 11.5zM409.4 1177.9h11.5l-5.8 11.5zM416.2 1184h11.5l-5.8 11.5zM423.1 1193.2h11.5l-5.8 11.5zM429.9 1201.1h11.5l-5.8 11.5zM436.7 1207.2h11.5l-5.8 11.5zM443.5 1210.8h11.5l-5.8 11.5zM450.3 1213.3h11.5l-5.8 11.5zM457.1 1215h11.5l-5.8 11.5zM463.9 1216.2h11.5l-5.8 11.5zM470.7 1217.1h11.5l-5.8 11.5zM477.5 1217.7h11.5l-5.8 11.5zM484.3 1218h11.5l-5.8 11.5zM491.1 1218.3h11.5l-5.8 11.5zM497.9 1218.6h11.5l-5.8 11.5zM504.8 1219h11.5l-5.8 11.5zM511.6 1219.4h11.5l-5.8 11.5zM518.4 1219.9h11.5l-5.8 11.5zM525.2 1220.7h11.5l-5.8 11.5zM532 1221.9h11.5l-5.8 11.5zM538.8 1223h11.5l-5.8 11.5zM545.6 1223.7h11.5l-5.8 11.5zM552.4 1224.2h11.5l-5.8 11.5zM559.2 1224.6h11.5l-5.8 11.5zM566 1225h11.5l-5.8 11.5zM572.8 1225.5h11.5l-5.8 11.5zM579.6 1226.1h11.5l-5.8 11.5zM586.5 1227h11.5l-5.8 11.5zM593.3 1227.8h11.5l-5.8 11.5zM600.1 1228.6h11.5l-5.8 11.5zM606.9 1229.2h11.5l-5.8 11.5zM613.7 1229.6h11.5l-5.8 11.5zM620.5 1229.8h11.5l-5.8 11.5zM627.3 1230.1h11.5l-5.8 11.5zM634.1 1230.3h11.5l-5.8 11.5zM640.9 1230.5h11.5l-5.8 11.5zM647.7 1230.7h11.5l-5.8 11.5zM654.5 1230.9h11.5l-5.8 11.5zM661.3 1231h11.5l-5.8 11.5zM668.1 1231.3h11.5l-5.8 11.5zM675 1231.5h11.5l-5.8 11.5zM681.8 1231.7h11.5l-5.8 11.5zM688.6 1231.9h11.5l-5.8 11.5zM695.4 1232.2h11.5l-5.8 11.5zM702.2 1232.4h11.5l-5.8 11.5zM709 1232.6h11.5l-5.8 11.5zM715.8 1232.8h11.5l-5.8 11.5zM722.6 1233h11.5l-5.8 11.5zM729.4 1233.2h11.5l-5.8 11.5zM736.2 1233.4h11.5l-5.8 11.5zM743 1233.5h11.5l-5.8 11.5zM749.8 1233.6h11.5l-5.8 11.5zM756.6 1233.7h11.5l-5.8 11.5zM763.5 1233.8h11.5l-5.8 11.5zM770.3 1233.9h11.5l-5.8 11.5zM777.1 1234h11.5l-5.8 11.5zM783.9 1234h11.5l-5.8 11.5zM790.7 1234.1h11.5l-5.8 11.5zM797.5 1234.2h11.5l-5.8 11.5zM804.3 1234.2h11.5l-5.8 11.5zM811.1 1234.3h11.5l-5.8 11.5zM817.9 1234.3h11.5l-5.8 11.5zM824.7 1234.4h11.5l-5.8 11.5zM831.5 1234.4h11.5l-5.8 11.5zM838.3 1234.4h11.5l-5.8 11.5zM845.2 1234.5h11.5l-5.8 11.5zM852 1234.5h11.5l-5.8 11.5zM858.8 1234.5h11.5l-5.8 11.5zM865.6 1234.5h11.5l-5.8 11.5zM872.4 1234.5h11.5l-5.8 11.5zM879.2 1234.5h11.5l-5.8 11.5zM886 1234.5h11.5l-5.8 11.5zM892.8 1234.5h11.5l-5.8 11.5zM899.6 1234.5h11.5l-5.8 11.5zM906.4 1234.5h11.5l-5.8 11.5zM913.2 1234.5h11.5l-5.8 11.5zM920 1234.5h11.5l-5.8 11.5zM926.9 1234.5h11.5l-5.8 11.5zM933.7 1234.5h11.5l-5.8 11.5zM940.5 1234.5h11.5l-5.8 11.5zM947.3 1234.4h11.5l-5.8 11.5zM954.1 1234.4h11.5l-5.8 11.5zM960.9 1234.3h11.5l-5.8 11.5zM967.7 1234.2h11.5l-5.8 11.5zM974.5 1234h11.5l-5.8 11.5zM981.3 1233.9h11.5l-5.8 11.5zM988.1 1233.8h11.5l-5.8 11.5zM994.9 1233.6h11.5l-5.8 11.5zM1001.7 1233.5h11.5l-5.8 11.5zM1008.5 1233.4h11.5l-5.8 11.5zM1015.4 1233.2h11.5l-5.8 11.5zM1022.2 1233h11.5l-5.8 11.5zM1029 1232.9h11.5l-5.8 11.5zM1035.8 1232.7h11.5l-5.8 11.5zM1042.6 1232.5h11.5l-5.8 11.5zM1049.4 1232.3h11.5l-5.8 11.5zM1056.2 1232.1h11.5l-5.8 11.5zM1063 1231.9h11.5l-5.8 11.5zM1069.8 1231.8h11.5l-5.8 11.5zM1076.6 1231.7h11.5l-5.8 11.5zM1083.4 1231.5h11.5l-5.8 11.5zM1090.2 1231.5h11.5l-5.8 11.5zM1097 1231.4h11.5l-5.8 11.5zM1103.9 1231.3h11.5l-5.8 11.5zM1110.7 1231.3h11.5l-5.8 11.5zM1117.5 1231.2h11.5l-5.8 11.5zM1124.3 1231.2h11.5l-5.8 11.5zM1131.1 1231.1h11.5l-5.8 11.5zM1137.9 1231.1h11.5l-5.8 11.5zM1144.7 1231.1h11.5l-5.8 11.5zM1151.5 1231h11.5l-5.8 11.5zM1158.3 1231h11.5l-5.8 11.5zM1165.1 1230.9h11.5l-5.8 11.5zM1171.9 1230.8h11.5l-5.8 11.5zM1178.7 1230.7h11.5l-5.8 11.5zM1185.6 1230.7h11.5l-5.8 11.5zM1192.4 1230.6h11.5l-5.8 11.5zM1199.2 1230.4h11.5l-5.8 11.5zM1206 1230.3h11.5l-5.8 11.5zM1212.8 1230.2h11.5l-5.8 11.5zM1219.6 1230h11.5l-5.8 11.5zM1226.4 1229.8h11.5l-5.8 11.5zM1233.2 1229.6h11.5l-5.8 11.5zM1240 1229.4h11.5l-5.8 11.5zM1246.8 1229.1h11.5l-5.8 11.5zM1253.6 1228.8h11.5l-5.8 11.5zM1260.4 1228.2h11.5l-5.8 11.5zM1267.2 1227.5h11.5l-5.8 11.5zM1274.1 1226.6h11.5l-5.8 11.5zM1280.9 1225.7h11.5l-5.8 11.5zM1287.7 1224.7h11.5l-5.8 11.5zM1294.5 1223.4h11.5l-5.8 11.5zM1301.3 1222.2h11.5l-5.8 11.5zM1308.2 1221.2h11.5l-5.8 11.5zM1315 1220.6h11.5l-5.8 11.5zM1321.8 1220h11.5l-5.8 11.5zM1328.6 1219.3h11.5l-5.8 11.5zM1335.5 1218.2h11.5l-5.8 11.5zM1342.3 1216.8h11.5l-5.8 11.5zM1349.1 1215.1h11.5l-5.8 11.5zM1355.9 1213.5h11.5l-5.8 11.5zM1362.7 1212.2h11.5l-5.8 11.5zM1369.5 1211.1h11.5l-5.8 11.5zM1376.4 1210h11.5l-5.8 11.5zM1383.2 1209h11.5l-5.8 11.5zM1390 1207.8h11.5l-5.8 11.5zM1396.8 1206.4h11.5l-5.8 11.5zM1403.7 1204.6h11.5l-5.8 11.5zM1410.5 1202.5h11.5l-5.8 11.5zM1417.3 1200.2h11.5l-5.8 11.5zM1424.1 1197.6h11.5l-5.8 11.5zM1430.9 1194.7h11.5l-5.8 11.5zM1437.8 1192.8h11.5l-5.8 11.5zM1444.6 1191.7h11.5l-5.8 11.5zM1451.4 1190.6h11.5l-5.8 11.5zM1458.2 1188.6h11.5l-5.8 11.5zM1465 1185.9h11.5l-5.8 11.5zM1471.8 1184.2h11.5l-5.8 11.5zM1478.7 1183h11.5l-5.8 11.5zM1485.5 1182h11.5l-5.8 11.5zM1492.3 1181.1h11.5l-5.8 11.5zM1499.1 1180h11.5l-5.8 11.5zM1506 1178.6h11.5l-5.8 11.5zM1512.8 1177h11.5l-5.8 11.5zM1519.6 1175.3h11.5l-5.8 11.5zM1526.4 1173.5h11.5l-5.8 11.5zM1533.2 1171.6h11.5l-5.8 11.5zM1540 1169.5h11.5l-5.8 11.5zM1546.9 1167.2h11.5l-5.8 11.5zM1553.7 1164.8h11.5l-5.8 11.5zM1560.5 1162.3h11.5l-5.8 11.5zM1567.3 1159.7h11.5l-5.8 11.5zM1574.2 1157h11.5l-5.8 11.5zM1581 1154.2h11.5l-5.8 11.5zM1587.8 1151.3h11.5l-5.8 11.5zM1594.6 1148.4h11.5l-5.8 11.5zM1601.4 1145.8h11.5l-5.8 11.5zM1608.2 1143.3h11.5l-5.8 11.5zM1615.1 1141h11.5l-5.8 11.5zM1621.9 1138.7h11.5l-5.8 11.5zM1628.8 1136.6h11.5l-5.8 11.5zM1635.7 1134.6h11.5l-5.8 11.5zM1642.5 1132.5h11.5l-5.8 11.5zM1649.3 1130.8h11.5l-5.8 11.5zM1656.2 1130.8h11.5l-5.8 11.5zM1663 1132.4h11.5l-5.8 11.5zM1669.9 1134.8h11.5l-5.8 11.5zM1676.8 1138.6h11.5l-5.8 11.5zM1683.5 1143.8h11.5l-5.8 11.5zM1690.3 1149.3h11.5l-5.8 11.5zM1697.1 1156.7h11.5l-5.8 11.5zM1704 1165h11.5l-5.8 11.5zM1710.8 1173.6h11.5l-5.8 11.5zM1717.5 1180.5h11.5l-5.8 11.5zM1724.3 1186.6h11.5l-5.8 11.5zM1731.1 1194.5h11.5l-5.8 11.5zM1738 1202.3h11.5l-5.8 11.5zM1744.8 1209.3h11.5l-5.8 11.5zM1751.5 1215.2h11.5l-5.8 11.5zM1758.3 1220h11.5l-5.8 11.5zM1765.1 1223.5h11.5l-5.8 11.5zM1772 1226.2h11.5l-5.8 11.5zM1778.8 1228.3h11.5l-5.8 11.5zM1785.5 1230h11.5l-5.8 11.5zM1792.3 1231.5h11.5l-5.8 11.5zM1799.1 1232.6h11.5l-5.8 11.5zM1806 1233.3h11.5l-5.8 11.5zM1812.8 1234h11.5l-5.8 11.5zM1819.5 1234.5h11.5l-5.8 11.5zM1826.3 1234.9h11.5l-5.8 11.5zM1833.1 1235.2h11.5l-5.8 11.5zM1840 1235.2h11.5l-5.8 11.5zM1846.8 1235.2h11.5l-5.8 11.5zM1853.5 1235.2h11.5l-5.8 11.5zM1860.3 1235.2h11.5l-5.8 11.5zM1867.1 1235.2h11.5l-5.8 11.5zM1874 1235.2h11.5l-5.8 11.5zM1880.8 1235.2h11.5l-5.8 11.5zM1887.5 1235.2h11.5l-5.8 11.5zM1894.3 1235.2h11.5l-5.8 11.5zM1901.1 1235.2h11.5l-5.8 11.5zM1908 1235.2h11.5l-5.8 11.5zM1914.8 1235.2h11.5l-5.8 11.5zM1921.5 1235.2h11.5l-5.8 11.5zM1928.3 1235.2h11.5l-5.8 11.5zM1935.1 1235.2h11.5l-5.8 11.5zM1942 1235.2h11.5l-5.8 11.5zM1948.8 1235.2h11.5l-5.8 11.5zM1955.5 1235.2h11.5l-5.8 11.5zM1962.3 1235.2h11.5l-5.8 11.5zM1969.1 1235.2h11.5l-5.8 11.5zM1976 1235.2h11.5l-5.8 11.5zM1982.8 1235.2h11.5l-5.8 11.5zM1989.5 1235.2h11.5l-5.8 11.5zM1996.3 1235.2h11.5l-5.8 11.5zM2003.1 1235.2h11.5l-5.8 11.5zM2010 1235.2h11.5l-5.8 11.5zM2016.8 1235.2h11.5l-5.8 11.5zM2023.5 1235.2h11.5l-5.8 11.5zM2030.3 1235.2h11.5l-5.8 11.5zM2037.1 1235.2h11.5l-5.8 11.5zM2043.9 1235.2h11.5l-5.8 11.5zM2050.8 1235.2h11.5l-5.8 11.5zM2057.6 1235.2h11.5l-5.8 11.5zM2064.3 1235.2h11.5l-5.8 11.5zM2071.1 1235.2h11.5l-5.8 11.5zM2077.9 1235.2h11.5l-5.8 11.5zM2084.8 1235.2h11.5l-5.8 11.5zM2091.6 1235.2h11.5l-5.8 11.5zM2098.3 1235.2h11.5l-5.8 11.5zM2105.1 1235.2h11.5l-5.8 11.5zM2111.9 1235.2h11.5l-5.8 11.5zM2118.8 1235.2h11.5l-5.8 11.5z" fill="#008080"/>
</g>
<path d="M225.3 124H252.3M225.3 309.7H252.3M225.3 495.4H252.3M225.3 681.2H252.3M225.3 866.9H252.3M225.3 1052.6H252.3M225.3 1238.3H252.3M225.3 1424H252.3M238.3 31.2H252.3M238.3 216.9H252.3M238.3 402.6H252.3M238.3 588.3H252.3M238.3 774H252.3M238.3 959.7H252.3M238.3 1145.4H252.3M238.3 1331.2H252.3M252.3 1424.3V1452.3M421.9 1424.3V1452.3M421.9 31V58M591.8 1424.3V1452.3M591.8 31V58M761.8 1424.3V1452.3M761.8 31V58M931.6 1424.3V1452.3M931.6 31V58M1101.9 1424.3V1452.3M1101.9 31V58M1272 1424.3V1452.3M1272 31V58M1443.9 1424.3V1452.3M1443.9 31V58M1614.2 1424.3V1452.3M1614.2 31V58M1784 1424.3V1452.3M1784 31V58M1954 1424.3V1452.3M1954 31V58M2124 1424.3V1452.3M336.8 1424.3V1438.3M336.8 31V45M507 1424.3V1438.3M507 31V45M677 1424.3V1438.3M677 31V45M848 1424.3V1438.3M848 31V45M1018.1 1424.3V1438.3M1018.1 31V45M1187 1424.3V1438.3M1187 31V45M1358.1 1424.3V1438.3M1358.1 31V45M1528 1424.3V1438.3M1528 31V45M1698.1 1424.3V1438.3M1698.1 31V45M1869 1424.3V1438.3M1869 31V45M2038.6 1424.3V1438.3M2038.6 31V45" stroke="#000" stroke-width="4.5" fill="none"/>
<path d="M252.3 29V1426.3 M238.3 31H2124 M225.3 1424.3H2124" stroke="#000" stroke-width="4.5" fill="none"/>
<path d="M2124 124H2151M2124 309.7H2151M2124 495.4H2151M2124 681.2H2151M2124 866.9H2151M2124 1052.6H2151M2124 1238.3H2151M2124 1424H2151M2124 31.2H2137M2124 216.9H2137M2124 402.6H2137M2124 588.3H2137M2124 774H2137M2124 959.7H2137M2124 1145.4H2137M2124 1331.2H2137M2124 29V1427.3" stroke="#0000ff" stroke-width="4.5" fill="none"/>
<text x="206.5" y="140.3" font-size="54" text-anchor="end">3.0</text>
<text x="206.5" y="326" font-size="54" text-anchor="end">2.5</text>
<text x="206.5" y="511.7" font-size="54" text-anchor="end">2.0</text>
<text x="206.5" y="697.5" font-size="54" text-anchor="end">1.5</text>
<text x="206.5" y="883.2" font-size="54" text-anchor="end">1.0</text>
<text x="206.5" y="1068.9" font-size="54" text-anchor="end">0.5</text>
<text x="206.5" y="1254.6" font-size="54" text-anchor="end">0.0</text>
<text x="206.5" y="1440.3" font-size="54" text-anchor="end">-0.5</text>
<text x="252.3" y="1512.8" font-size="53" text-anchor="middle">250</text>
<text x="421.9" y="1512.8" font-size="53" text-anchor="middle">300</text>
<text x="591.8" y="1512.8" font-size="53" text-anchor="middle">350</text>
<text x="761.8" y="1512.8" font-size="53" text-anchor="middle">400</text>
<text x="931.6" y="1512.8" font-size="53" text-anchor="middle">450</text>
<text x="1101.9" y="1512.8" font-size="53" text-anchor="middle">500</text>
<text x="1272" y="1512.8" font-size="53" text-anchor="middle">550</text>
<text x="1443.9" y="1512.8" font-size="53" text-anchor="middle">600</text>
<text x="1614.2" y="1512.8" font-size="53" text-anchor="middle">650</text>
<text x="1784" y="1512.8" font-size="53" text-anchor="middle">700</text>
<text x="1954" y="1512.8" font-size="53" text-anchor="middle">750</text>
<text x="2124" y="1512.8" font-size="53" text-anchor="middle">800</text>
<text x="1187" y="1618.8" font-size="66" text-anchor="middle" letter-spacing="0.55">wavelength (nm)</text>
<text transform="translate(68.5 728) rotate(-90)" font-size="66" text-anchor="middle" letter-spacing="0.2">Absorbance (a.u)</text>
<text x="294" y="123.1" font-size="62.5" font-weight="bold" letter-spacing="0.85">Pure ZnO</text>
<text x="1557" y="110.2" font-size="53" letter-spacing="0.55">664.5nm</text>
<rect x="1791.5" y="160" width="330" height="326" fill="#000"/>
<rect x="1771.5" y="144" width="332.5" height="322.5" fill="#fff" stroke="#8a8a8a" stroke-width="3"/>
<path d="M1772 172H1892" stroke="#909090" stroke-width="4"/>
<path d="M1826.8 166.8h10.5v10.5h-10.5z" fill="#000000"/>
<text x="1902" y="188.6" font-size="33" font-weight="bold" letter-spacing="0.8">0 minute</text>
<path d="M1772 238.5H1892" stroke="#60c080" stroke-width="4"/>
<path d="M1829.5 232.5h5l3.5 3.5v5l-3.5 3.5h-5l-3.5 -3.5v-5z" fill="#008000"/>
<text x="1902" y="255.1" font-size="33" font-weight="bold" letter-spacing="0.8">30minutes</text>
<path d="M1772 304.2H1892" stroke="#ff4040" stroke-width="4"/>
<path d="M1830.8 298.2L1833.2 298.2L1837.4 302.9L1837.4 305.5L1833.2 310.2L1830.8 310.2L1826.6 305.5L1826.6 302.9z" fill="#ff0000"/>
<text x="1902" y="320.8" font-size="33" font-weight="bold" letter-spacing="0.8">60 minutes</text>
<path d="M1772 370.2H1892" stroke="#4040ff" stroke-width="4"/>
<path d="M1832 363.2l7 14h-14z" fill="#0000ff"/>
<text x="1902" y="386.8" font-size="33" font-weight="bold" letter-spacing="0.8">90 minutes</text>
<path d="M1772 437.8H1892" stroke="#00a8a8" stroke-width="4"/>
<path d="M1825 430.8h14l-7 14z" fill="#008080"/>
<text x="1902" y="454.4" font-size="33" font-weight="bold" letter-spacing="0.8">120 minutes</text>
<rect x="1772.5" y="209.5" width="120.5" height="57" fill="none" stroke="#ff3030" stroke-width="3"/>
</svg>
</body></html>
